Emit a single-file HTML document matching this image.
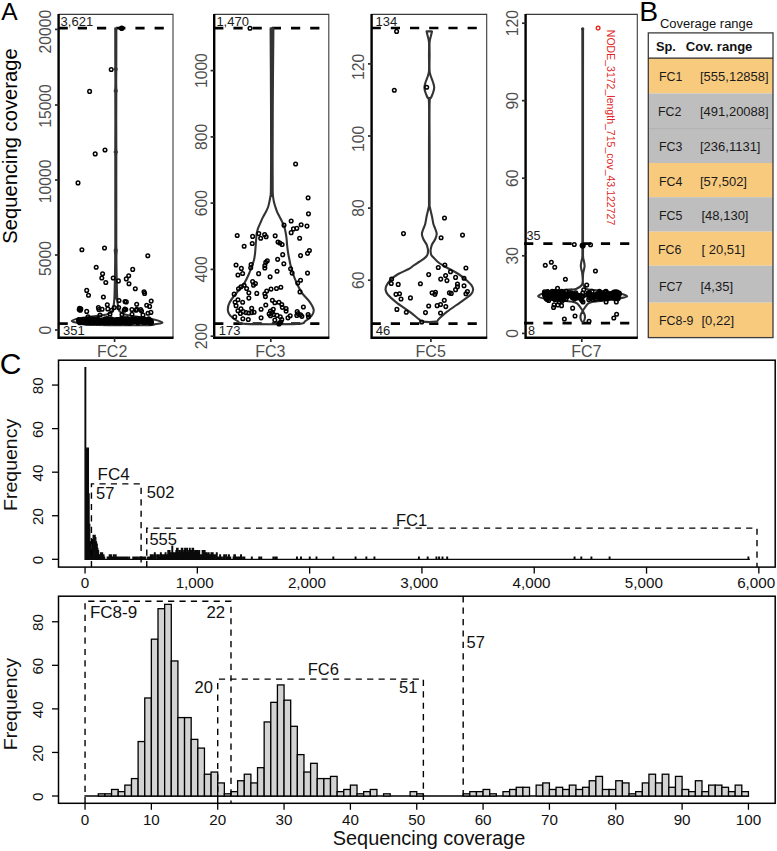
<!DOCTYPE html>
<html><head><meta charset="utf-8"><title>Sequencing coverage</title>
<style>
html,body{margin:0;padding:0;background:#fff;}
body{width:777px;height:851px;overflow:hidden;font-family:"Liberation Sans", sans-serif;}
svg{display:block;font-family:"Liberation Sans", sans-serif;}
</style></head><body>
<svg width="777" height="851" viewBox="0 0 777 851">
<rect x="0" y="0" width="777" height="851" fill="#fff"/>
<text x="1.2" y="20" font-size="23.5" fill="#000" textLength="16.4" lengthAdjust="spacingAndGlyphs">A</text>
<text x="639.2" y="20.6" font-size="27.6" fill="#000" textLength="18.9" lengthAdjust="spacingAndGlyphs">B</text>
<text x="-0.3" y="374.1" font-size="30" fill="#000">C</text>
<text x="16.6" y="146" font-size="20.2" fill="#000" text-anchor="middle" transform="rotate(-90 16.6 146)">Sequencing coverage</text>
<path d="M58.6 14.4H173V337.8" fill="none" stroke="#3a3a3a" stroke-width="1.1"/>
<path d="M58.6 13.9V337.8H173.5" fill="none" stroke="#000" stroke-width="2.4"/>
<path d="M55 330H58.6" stroke="#2a2a2a" stroke-width="1.7"/>
<text x="51.3" y="330" font-size="15.7" fill="#4d4d4d" text-anchor="middle" transform="rotate(-90 51.3 330)">0</text>
<path d="M55 255H58.6" stroke="#2a2a2a" stroke-width="1.7"/>
<text x="51.3" y="258.5" font-size="15.7" fill="#4d4d4d" text-anchor="middle" transform="rotate(-90 51.3 258.5)">5000</text>
<path d="M55 180H58.6" stroke="#2a2a2a" stroke-width="1.7"/>
<text x="51.3" y="181.4" font-size="15.7" fill="#4d4d4d" text-anchor="middle" transform="rotate(-90 51.3 181.4)">10000</text>
<path d="M55 105H58.6" stroke="#2a2a2a" stroke-width="1.7"/>
<text x="51.3" y="106" font-size="15.7" fill="#4d4d4d" text-anchor="middle" transform="rotate(-90 51.3 106)">15000</text>
<path d="M55 29.4H58.6" stroke="#2a2a2a" stroke-width="1.7"/>
<text x="51.3" y="31.6" font-size="15.7" fill="#4d4d4d" text-anchor="middle" transform="rotate(-90 51.3 31.6)">20000</text>
<path d="M114.6 337.8V342" stroke="#2a2a2a" stroke-width="1.7"/>
<text x="112.2" y="357.4" font-size="16" fill="#4d4d4d" text-anchor="middle">FC2</text>
<path d="M58.6 28.2H173" stroke="#000" stroke-width="2.7" stroke-dasharray="9.2 10" fill="none"/>
<path d="M58.6 323.6H68" stroke="#000" stroke-width="2.7" stroke-dasharray="9.2 10" fill="none"/>
<text x="60.6" y="26.4" font-size="13" fill="#1a1a1a">3,621</text>
<text x="63" y="335.2" font-size="13" fill="#1a1a1a">351</text>
<path d="M115.25 28.2C115.26 33.5 115.29 53.53 115.3 60C115.31 66.47 115.38 65.42 115.3 67C115.22 68.58 114.8 68.67 114.8 69.5C114.8 70.33 115.22 68.75 115.3 72C115.38 75.25 115.38 85.77 115.3 89C115.22 92.23 114.8 90.57 114.8 91.4C114.8 92.23 115.22 84.73 115.3 94C115.38 103.27 115.4 137.33 115.3 147C115.2 156.67 114.7 150.33 114.7 152C114.7 153.67 115.2 149 115.3 157C115.4 165 115.3 185.33 115.3 200C115.3 214.67 115.38 236.67 115.3 245C115.22 253.33 114.82 248.17 114.8 250C114.78 251.83 115.17 251.83 115.2 256C115.23 260.17 115.07 270.17 115 275C114.93 279.83 114.9 281.17 114.8 285C114.7 288.83 114.6 294.5 114.4 298C114.2 301.5 113.97 303.83 113.6 306C113.23 308.17 113.33 309.58 112.2 311C111.07 312.42 110.2 313.58 106.8 314.5C103.4 315.42 96.47 315.83 91.8 316.5C87.13 317.17 82.13 317.75 78.8 318.5C75.47 319.25 71.97 320.25 71.8 321C71.63 321.75 75.13 322.4 77.8 323C80.47 323.6 76.47 324.23 87.8 324.6C99.13 324.97 134.47 325.3 145.8 325.2C157.13 325.1 153.05 324.45 155.8 324C158.55 323.55 162.63 323.25 162.3 322.5C161.97 321.75 157.55 320.42 153.8 319.5C150.05 318.58 144.63 317.83 139.8 317C134.97 316.17 128.2 315.5 124.8 314.5C121.4 313.5 120.53 312.42 119.4 311C118.27 309.58 118.37 308.17 118 306C117.63 303.83 117.4 301.5 117.2 298C117 294.5 116.9 288.83 116.8 285C116.7 281.17 116.67 279.83 116.6 275C116.53 270.17 116.37 260.17 116.4 256C116.43 251.83 116.82 251.83 116.8 250C116.78 248.17 116.38 253.33 116.3 245C116.22 236.67 116.3 214.67 116.3 200C116.3 185.33 116.2 165 116.3 157C116.4 149 116.9 153.67 116.9 152C116.9 150.33 116.4 156.67 116.3 147C116.2 137.33 116.22 103.27 116.3 94C116.38 84.73 116.8 92.23 116.8 91.4C116.8 90.57 116.38 92.23 116.3 89C116.22 85.77 116.22 75.25 116.3 72C116.38 68.75 116.8 70.33 116.8 69.5C116.8 68.67 116.38 68.58 116.3 67C116.22 65.42 116.29 66.47 116.3 60C116.31 53.53 116.34 33.5 116.35 28.2Z" fill="none" stroke="#333333" stroke-width="2.1" stroke-linejoin="round"/>
<path d="M115.25 28.2C115.26 33.5 115.29 53.53 115.3 60C115.31 66.47 115.38 65.42 115.3 67C115.22 68.58 114.8 68.67 114.8 69.5C114.8 70.33 115.22 68.75 115.3 72C115.38 75.25 115.38 85.77 115.3 89C115.22 92.23 114.8 90.57 114.8 91.4C114.8 92.23 115.22 84.73 115.3 94C115.38 103.27 115.4 137.33 115.3 147C115.2 156.67 114.7 150.33 114.7 152C114.7 153.67 115.2 149 115.3 157C115.4 165 115.3 185.33 115.3 200C115.3 214.67 115.38 236.67 115.3 245C115.22 253.33 114.82 248.17 114.8 250C114.78 251.83 115.17 251.83 115.2 256C115.23 260.17 115.07 270.17 115 275C114.93 279.83 114.9 281.17 114.8 285C114.7 288.83 114 295.83 114.4 298C114.8 300.17 116.8 300.17 117.2 298C117.6 295.83 116.9 288.83 116.8 285C116.7 281.17 116.67 279.83 116.6 275C116.53 270.17 116.37 260.17 116.4 256C116.43 251.83 116.82 251.83 116.8 250C116.78 248.17 116.38 253.33 116.3 245C116.22 236.67 116.3 214.67 116.3 200C116.3 185.33 116.2 165 116.3 157C116.4 149 116.9 153.67 116.9 152C116.9 150.33 116.4 156.67 116.3 147C116.2 137.33 116.22 103.27 116.3 94C116.38 84.73 116.8 92.23 116.8 91.4C116.8 90.57 116.38 92.23 116.3 89C116.22 85.77 116.22 75.25 116.3 72C116.38 68.75 116.8 70.33 116.8 69.5C116.8 68.67 116.38 68.58 116.3 67C116.22 65.42 116.29 66.47 116.3 60C116.31 53.53 116.34 33.5 116.35 28.2Z" fill="#333333" stroke="none"/>
<g fill="none" stroke="#000" stroke-width="1.5"><circle cx="111.2" cy="69.5" r="1.8"/><circle cx="89.6" cy="91.4" r="1.8"/><circle cx="105" cy="150" r="1.8"/><circle cx="95.2" cy="153.9" r="1.8"/><circle cx="78" cy="182.9" r="1.8"/><circle cx="81.9" cy="249.7" r="1.8"/><circle cx="104.5" cy="248" r="1.8"/><circle cx="147.8" cy="255.8" r="1.8"/><circle cx="96.2" cy="267.3" r="1.8"/><circle cx="132.7" cy="269.4" r="1.8"/><circle cx="102.6" cy="273.8" r="1.8"/><circle cx="101.8" cy="278" r="1.8"/><circle cx="113.2" cy="278" r="1.8"/><circle cx="128.7" cy="275.7" r="1.8"/><circle cx="126.3" cy="278.9" r="1.8"/><circle cx="118.4" cy="280.9" r="1.8"/><circle cx="105.8" cy="282.5" r="1.8"/><circle cx="129" cy="283.8" r="1.8"/><circle cx="135.3" cy="288.7" r="1.8"/><circle cx="86.7" cy="290.4" r="1.8"/><circle cx="88.5" cy="295.2" r="1.8"/><circle cx="144" cy="291.8" r="1.8"/><circle cx="144.6" cy="293.4" r="1.8"/><circle cx="103.4" cy="297" r="1.8"/><circle cx="119" cy="300.5" r="1.8"/><circle cx="125" cy="301.6" r="1.8"/><circle cx="126.3" cy="301.9" r="1.8"/><circle cx="151.2" cy="301.1" r="1.8"/><circle cx="136.7" cy="304.3" r="1.8"/><circle cx="146.7" cy="305.2" r="1.8"/><circle cx="149.6" cy="306.4" r="1.8"/><circle cx="107.3" cy="304.8" r="1.8"/><circle cx="98.4" cy="307.6" r="1.8"/><circle cx="79.6" cy="308.4" r="1.8"/><circle cx="80.3" cy="310.3" r="1.8"/><circle cx="79.2" cy="309.6" r="1.8"/><circle cx="80.8" cy="308.9" r="1.8"/><circle cx="86.7" cy="311.4" r="1.8"/><circle cx="98.9" cy="309.5" r="1.8"/><circle cx="102.1" cy="309.2" r="1.8"/><circle cx="107.8" cy="308.9" r="1.8"/><circle cx="111.6" cy="310.3" r="1.8"/><circle cx="114.2" cy="307.6" r="1.8"/><circle cx="118.7" cy="307.6" r="1.8"/><circle cx="124.2" cy="310.3" r="1.8"/><circle cx="125.8" cy="309.5" r="1.8"/><circle cx="124.9" cy="309" r="1.8"/><circle cx="131.9" cy="309.5" r="1.8"/><circle cx="136" cy="310.3" r="1.8"/><circle cx="136.8" cy="309.4" r="1.8"/><circle cx="140.7" cy="309.5" r="1.8"/><circle cx="141.5" cy="311" r="1.8"/><circle cx="148" cy="313.2" r="1.8"/><circle cx="150.9" cy="312.4" r="1.8"/><circle cx="88" cy="316.9" r="1.8"/><circle cx="122" cy="314.5" r="1.8"/><circle cx="110" cy="314" r="1.8"/><circle cx="100" cy="315" r="1.8"/><circle cx="132" cy="314.2" r="1.8"/><circle cx="143" cy="315" r="1.8"/></g>
<g fill="none" stroke="#000" stroke-width="1.5"><circle cx="102.3" cy="321.92" r="1.8"/><circle cx="83.82" cy="322.31" r="1.8"/><circle cx="117.89" cy="320.62" r="1.8"/><circle cx="115.8" cy="321.21" r="1.8"/><circle cx="81.26" cy="320.48" r="1.8"/><circle cx="85.17" cy="321.08" r="1.8"/><circle cx="109.7" cy="321.19" r="1.8"/><circle cx="94.91" cy="320.35" r="1.8"/><circle cx="124.62" cy="322.39" r="1.8"/><circle cx="107.66" cy="320.39" r="1.8"/><circle cx="150.25" cy="322.9" r="1.8"/><circle cx="99.79" cy="321.58" r="1.8"/><circle cx="89.1" cy="321.66" r="1.8"/><circle cx="138.49" cy="321.6" r="1.8"/><circle cx="91.78" cy="319.41" r="1.8"/><circle cx="105.87" cy="320.06" r="1.8"/><circle cx="118.76" cy="321.29" r="1.8"/><circle cx="93.64" cy="321.06" r="1.8"/><circle cx="128.51" cy="319.96" r="1.8"/><circle cx="121.54" cy="321.36" r="1.8"/><circle cx="111.81" cy="320.24" r="1.8"/><circle cx="129.88" cy="322.9" r="1.8"/><circle cx="96.44" cy="319.59" r="1.8"/><circle cx="142.82" cy="320.24" r="1.8"/><circle cx="132.11" cy="320.11" r="1.8"/><circle cx="87.18" cy="322.9" r="1.8"/><circle cx="109.23" cy="320.93" r="1.8"/><circle cx="114.44" cy="320.21" r="1.8"/><circle cx="81.38" cy="319.9" r="1.8"/><circle cx="120.62" cy="319.12" r="1.8"/><circle cx="142.85" cy="320.18" r="1.8"/><circle cx="122.19" cy="322.6" r="1.8"/><circle cx="121.12" cy="318.9" r="1.8"/><circle cx="147.93" cy="321.52" r="1.8"/><circle cx="113.35" cy="320.68" r="1.8"/><circle cx="130.06" cy="320.54" r="1.8"/><circle cx="126.06" cy="322.9" r="1.8"/><circle cx="99.42" cy="320.8" r="1.8"/><circle cx="106.86" cy="320.77" r="1.8"/><circle cx="112.43" cy="320.68" r="1.8"/><circle cx="90.85" cy="321.21" r="1.8"/><circle cx="134.97" cy="321.18" r="1.8"/><circle cx="88.01" cy="320.92" r="1.8"/><circle cx="142.55" cy="322.09" r="1.8"/><circle cx="84.42" cy="319.46" r="1.8"/><circle cx="143.43" cy="321.38" r="1.8"/><circle cx="138.72" cy="321.54" r="1.8"/><circle cx="109.02" cy="320.17" r="1.8"/><circle cx="104.87" cy="322.9" r="1.8"/><circle cx="89.59" cy="318.9" r="1.8"/><circle cx="91.45" cy="321" r="1.8"/><circle cx="114.14" cy="321.77" r="1.8"/><circle cx="121.8" cy="320.89" r="1.8"/><circle cx="109.29" cy="321.01" r="1.8"/><circle cx="105.64" cy="318.9" r="1.8"/><circle cx="129.25" cy="319.7" r="1.8"/><circle cx="116.39" cy="319.57" r="1.8"/><circle cx="82.47" cy="319.69" r="1.8"/><circle cx="144.62" cy="321.36" r="1.8"/><circle cx="137.14" cy="318.9" r="1.8"/><circle cx="107.34" cy="320.45" r="1.8"/><circle cx="125.12" cy="321.23" r="1.8"/><circle cx="83.08" cy="321.65" r="1.8"/><circle cx="90.43" cy="321.24" r="1.8"/><circle cx="103.49" cy="320.92" r="1.8"/><circle cx="89.62" cy="320.91" r="1.8"/><circle cx="85.96" cy="320.72" r="1.8"/><circle cx="142.76" cy="321.11" r="1.8"/><circle cx="123.63" cy="321.44" r="1.8"/><circle cx="104.03" cy="321.64" r="1.8"/><circle cx="105.27" cy="322.57" r="1.8"/><circle cx="151.49" cy="322.53" r="1.8"/><circle cx="112.75" cy="320.39" r="1.8"/><circle cx="86.01" cy="320.95" r="1.8"/><circle cx="103.68" cy="320.69" r="1.8"/><circle cx="90.37" cy="322.9" r="1.8"/><circle cx="80.2" cy="322.3" r="1.8"/><circle cx="89.28" cy="320.45" r="1.8"/><circle cx="118.42" cy="322.35" r="1.8"/><circle cx="150.42" cy="321.15" r="1.8"/><circle cx="141.95" cy="320.59" r="1.8"/><circle cx="105.45" cy="320.02" r="1.8"/><circle cx="90.78" cy="321.1" r="1.8"/><circle cx="135.76" cy="319.43" r="1.8"/><circle cx="102.73" cy="321.27" r="1.8"/><circle cx="150.89" cy="322.9" r="1.8"/><circle cx="141.17" cy="321.66" r="1.8"/><circle cx="132.88" cy="318.9" r="1.8"/><circle cx="95.17" cy="319.78" r="1.8"/><circle cx="80.63" cy="320.78" r="1.8"/><circle cx="80.55" cy="320.73" r="1.8"/><circle cx="129.4" cy="321.81" r="1.8"/><circle cx="148.8" cy="318.9" r="1.8"/><circle cx="151.12" cy="321.82" r="1.8"/><circle cx="148.69" cy="320.34" r="1.8"/><circle cx="95.17" cy="321.54" r="1.8"/><circle cx="92.96" cy="321.37" r="1.8"/><circle cx="144.67" cy="322.51" r="1.8"/><circle cx="140.27" cy="319.17" r="1.8"/><circle cx="137.27" cy="321.12" r="1.8"/><circle cx="84.73" cy="319.5" r="1.8"/><circle cx="136" cy="318.9" r="1.8"/><circle cx="133.64" cy="320.15" r="1.8"/><circle cx="136.5" cy="321" r="1.8"/><circle cx="102.94" cy="321.91" r="1.8"/><circle cx="107.59" cy="318.9" r="1.8"/><circle cx="108" cy="322.72" r="1.8"/><circle cx="91" cy="320.27" r="1.8"/><circle cx="87.84" cy="322.41" r="1.8"/><circle cx="137.78" cy="322.9" r="1.8"/><circle cx="89.24" cy="322.46" r="1.8"/><circle cx="126.81" cy="318.9" r="1.8"/><circle cx="104.25" cy="320.29" r="1.8"/><circle cx="79.55" cy="320.71" r="1.8"/><circle cx="149.86" cy="320.03" r="1.8"/><circle cx="147.12" cy="319.71" r="1.8"/><circle cx="110.38" cy="322.45" r="1.8"/><circle cx="94.01" cy="319.28" r="1.8"/><circle cx="97.01" cy="320.66" r="1.8"/><circle cx="121.6" cy="321.76" r="1.8"/><circle cx="97.56" cy="320.34" r="1.8"/><circle cx="145.39" cy="321.21" r="1.8"/><circle cx="104.5" cy="319.37" r="1.8"/><circle cx="144.97" cy="321.31" r="1.8"/><circle cx="109.42" cy="322.13" r="1.8"/><circle cx="117.59" cy="320.2" r="1.8"/><circle cx="116.98" cy="322.18" r="1.8"/><circle cx="91.96" cy="321.05" r="1.8"/><circle cx="78.79" cy="321.12" r="1.8"/><circle cx="113.3" cy="320.2" r="1.8"/><circle cx="131.8" cy="319.9" r="1.8"/><circle cx="116.6" cy="320.53" r="1.8"/><circle cx="119.32" cy="321.02" r="1.8"/><circle cx="119.68" cy="320.34" r="1.8"/><circle cx="96.76" cy="320.55" r="1.8"/><circle cx="115.82" cy="322.9" r="1.8"/><circle cx="119.79" cy="321.07" r="1.8"/><circle cx="111.08" cy="318.9" r="1.8"/><circle cx="123.52" cy="319.46" r="1.8"/><circle cx="129.42" cy="320.85" r="1.8"/><circle cx="111.75" cy="319.56" r="1.8"/><circle cx="147.7" cy="320.62" r="1.8"/><circle cx="129.89" cy="322.9" r="1.8"/><circle cx="97.58" cy="318.9" r="1.8"/><circle cx="119.62" cy="322.9" r="1.8"/><circle cx="88.58" cy="320.1" r="1.8"/><circle cx="87.44" cy="320.46" r="1.8"/><circle cx="96.19" cy="321.07" r="1.8"/><circle cx="83.87" cy="319.88" r="1.8"/><circle cx="144.43" cy="319.06" r="1.8"/><circle cx="89.85" cy="320.53" r="1.8"/><circle cx="89.01" cy="319.18" r="1.8"/><circle cx="143.39" cy="321.73" r="1.8"/><circle cx="148.51" cy="320.73" r="1.8"/><circle cx="107.77" cy="318.9" r="1.8"/><circle cx="139.68" cy="321.19" r="1.8"/><circle cx="90.37" cy="319.59" r="1.8"/><circle cx="103.43" cy="321.5" r="1.8"/><circle cx="92.89" cy="320.1" r="1.8"/><circle cx="79.93" cy="322.65" r="1.8"/><circle cx="119.22" cy="320.69" r="1.8"/><circle cx="102.87" cy="320.98" r="1.8"/><circle cx="124.36" cy="320.46" r="1.8"/><circle cx="150.9" cy="320.87" r="1.8"/><circle cx="136.44" cy="321.46" r="1.8"/><circle cx="98.02" cy="320.8" r="1.8"/><circle cx="81.41" cy="321.07" r="1.8"/><circle cx="88.02" cy="319.96" r="1.8"/><circle cx="109.54" cy="322.78" r="1.8"/><circle cx="97.51" cy="319.73" r="1.8"/><circle cx="89.48" cy="322.26" r="1.8"/><circle cx="129.98" cy="320.14" r="1.8"/><circle cx="85.08" cy="322.61" r="1.8"/><circle cx="109.76" cy="321.55" r="1.8"/><circle cx="83.82" cy="322.48" r="1.8"/><circle cx="137.42" cy="320.26" r="1.8"/><circle cx="84.66" cy="321.18" r="1.8"/><circle cx="141.91" cy="320.55" r="1.8"/><circle cx="111.85" cy="320.09" r="1.8"/><circle cx="146.61" cy="322.19" r="1.8"/><circle cx="98.19" cy="321.91" r="1.8"/><circle cx="96.03" cy="321.97" r="1.8"/><circle cx="86.54" cy="321.1" r="1.8"/><circle cx="93.33" cy="321.23" r="1.8"/><circle cx="101.43" cy="320.21" r="1.8"/><circle cx="99.81" cy="322.81" r="1.8"/><circle cx="115.26" cy="321.38" r="1.8"/><circle cx="79.83" cy="321.9" r="1.8"/><circle cx="96.91" cy="322.84" r="1.8"/><circle cx="119" cy="321.09" r="1.8"/><circle cx="92.43" cy="318.9" r="1.8"/><circle cx="86.31" cy="321.34" r="1.8"/><circle cx="138.69" cy="319.62" r="1.8"/><circle cx="139.84" cy="321.48" r="1.8"/><circle cx="107.39" cy="319.07" r="1.8"/><circle cx="150.71" cy="320.82" r="1.8"/><circle cx="103.69" cy="321.83" r="1.8"/><circle cx="125.24" cy="319.27" r="1.8"/><circle cx="108.25" cy="320.67" r="1.8"/><circle cx="88.04" cy="321.23" r="1.8"/><circle cx="83.7" cy="320.85" r="1.8"/><circle cx="90.5" cy="319.98" r="1.8"/><circle cx="84.71" cy="322.22" r="1.8"/><circle cx="127.78" cy="318.9" r="1.8"/><circle cx="99.22" cy="320.95" r="1.8"/><circle cx="112.27" cy="321.9" r="1.8"/><circle cx="90.08" cy="320.02" r="1.8"/><circle cx="149.19" cy="321.21" r="1.8"/><circle cx="149.99" cy="320.04" r="1.8"/><circle cx="149.48" cy="320.64" r="1.8"/><circle cx="101.25" cy="320.87" r="1.8"/><circle cx="106.55" cy="320.94" r="1.8"/><circle cx="113.39" cy="320.1" r="1.8"/><circle cx="115.6" cy="320.89" r="1.8"/><circle cx="78.86" cy="320.85" r="1.8"/><circle cx="107.86" cy="321.42" r="1.8"/><circle cx="81.56" cy="321.91" r="1.8"/><circle cx="95.61" cy="321.04" r="1.8"/><circle cx="121.54" cy="318.93" r="1.8"/><circle cx="126.83" cy="320.54" r="1.8"/><circle cx="131.13" cy="321.76" r="1.8"/><circle cx="102.47" cy="320.08" r="1.8"/><circle cx="150.88" cy="322.04" r="1.8"/><circle cx="125.78" cy="322.45" r="1.8"/><circle cx="81.72" cy="322.19" r="1.8"/><circle cx="124.61" cy="318.9" r="1.8"/><circle cx="132.44" cy="321.15" r="1.8"/><circle cx="117" cy="320.29" r="1.8"/><circle cx="115.57" cy="322" r="1.8"/><circle cx="139.24" cy="319.03" r="1.8"/><circle cx="121.43" cy="322.32" r="1.8"/><circle cx="129.46" cy="319.77" r="1.8"/><circle cx="95.4" cy="321.53" r="1.8"/><circle cx="105.01" cy="321.02" r="1.8"/><circle cx="86.21" cy="321.69" r="1.8"/><circle cx="124.64" cy="319.58" r="1.8"/><circle cx="124.53" cy="320.31" r="1.8"/><circle cx="78.74" cy="319.64" r="1.8"/><circle cx="137.13" cy="320.88" r="1.8"/><circle cx="117.84" cy="319.48" r="1.8"/><circle cx="126.96" cy="322.69" r="1.8"/><circle cx="97.04" cy="321.69" r="1.8"/><circle cx="83.97" cy="320.71" r="1.8"/><circle cx="93.58" cy="322.83" r="1.8"/><circle cx="132.88" cy="322.28" r="1.8"/><circle cx="106.62" cy="320.69" r="1.8"/><circle cx="113.71" cy="320.07" r="1.8"/><circle cx="123.85" cy="319.03" r="1.8"/><circle cx="125.74" cy="321.5" r="1.8"/><circle cx="97.16" cy="321.22" r="1.8"/><circle cx="133.13" cy="320.38" r="1.8"/><circle cx="79.42" cy="322.36" r="1.8"/><circle cx="82.96" cy="320.69" r="1.8"/><circle cx="129.38" cy="322.68" r="1.8"/><circle cx="128.16" cy="320.53" r="1.8"/><circle cx="112.65" cy="322.3" r="1.8"/><circle cx="112.78" cy="322.77" r="1.8"/><circle cx="93.14" cy="322.62" r="1.8"/><circle cx="150.39" cy="321.11" r="1.8"/><circle cx="112.23" cy="320.81" r="1.8"/></g>
<circle cx="121.7" cy="28.3" r="2.8" fill="#000"/>
<path d="M214.2 14.4H328.8V337.8" fill="none" stroke="#3a3a3a" stroke-width="1.1"/>
<path d="M214.2 13.9V337.8H329.3" fill="none" stroke="#000" stroke-width="2.4"/>
<path d="M210.6 336.2H214.2" stroke="#2a2a2a" stroke-width="1.7"/>
<text x="206.9" y="336.2" font-size="15.7" fill="#4d4d4d" text-anchor="middle" transform="rotate(-90 206.9 336.2)">200</text>
<path d="M210.6 269.4H214.2" stroke="#2a2a2a" stroke-width="1.7"/>
<text x="206.9" y="269.4" font-size="15.7" fill="#4d4d4d" text-anchor="middle" transform="rotate(-90 206.9 269.4)">400</text>
<path d="M210.6 203.1H214.2" stroke="#2a2a2a" stroke-width="1.7"/>
<text x="206.9" y="203.1" font-size="15.7" fill="#4d4d4d" text-anchor="middle" transform="rotate(-90 206.9 203.1)">600</text>
<path d="M210.6 136.9H214.2" stroke="#2a2a2a" stroke-width="1.7"/>
<text x="206.9" y="136.9" font-size="15.7" fill="#4d4d4d" text-anchor="middle" transform="rotate(-90 206.9 136.9)">800</text>
<path d="M210.6 70.6H214.2" stroke="#2a2a2a" stroke-width="1.7"/>
<text x="206.9" y="70.6" font-size="15.7" fill="#4d4d4d" text-anchor="middle" transform="rotate(-90 206.9 70.6)">1000</text>
<path d="M270.8 337.8V342" stroke="#2a2a2a" stroke-width="1.7"/>
<text x="270.3" y="357.4" font-size="16" fill="#4d4d4d" text-anchor="middle">FC3</text>
<path d="M214.2 28.2H328.8" stroke="#000" stroke-width="2.7" stroke-dasharray="9.2 10" fill="none"/>
<path d="M214.2 323.6H328.8" stroke="#000" stroke-width="2.7" stroke-dasharray="9.2 10" fill="none"/>
<text x="216.4" y="26.4" font-size="13" fill="#1a1a1a">1,470</text>
<text x="218.8" y="335.2" font-size="13" fill="#1a1a1a">173</text>
<path d="M270.6 28.4C270.67 40.33 270.92 78.07 271 100C271.08 121.93 271.12 145 271.1 160C271.08 175 271 184 270.9 190C270.8 196 270.75 194.05 270.5 196C270.25 197.95 269.8 199.87 269.4 201.7C269 203.53 268.72 205.23 268.1 207C267.48 208.77 266.6 210.53 265.7 212.3C264.8 214.07 263.58 215.83 262.7 217.6C261.82 219.37 261.17 221.13 260.4 222.9C259.63 224.67 258.72 226.43 258.1 228.2C257.48 229.97 257.02 231.73 256.7 233.5C256.38 235.27 256.35 237.05 256.2 238.8C256.05 240.55 255.93 242.25 255.8 244C255.67 245.75 255.55 247.53 255.4 249.3C255.25 251.07 255.13 252.82 254.9 254.6C254.67 256.38 254.42 258.33 254 260C253.58 261.67 253.25 262.27 252.4 264.6C251.55 266.93 250.27 270.87 248.9 274C247.53 277.13 246.25 280.27 244.2 283.4C242.15 286.53 239.02 289.65 236.6 292.8C234.18 295.95 231.17 299.47 229.7 302.3C228.23 305.13 227.75 307.62 227.8 309.8C227.85 311.98 228.37 313.52 230 315.4C231.63 317.28 234.93 319.68 237.6 321.1C240.27 322.52 236.1 323.43 246 323.9C255.9 324.37 287.12 324.37 297 323.9C306.88 323.43 302.82 322.52 305.3 321.1C307.78 319.68 310.5 317.28 311.9 315.4C313.3 313.52 314.02 311.98 313.7 309.8C313.38 307.62 311.97 305.13 310 302.3C308.03 299.47 304.1 295.95 301.9 292.8C299.7 289.65 298.27 286.53 296.8 283.4C295.33 280.27 294.17 277.13 293.1 274C292.03 270.87 291 266.93 290.4 264.6C289.8 262.27 289.83 261.67 289.5 260C289.17 258.33 288.72 256.38 288.4 254.6C288.08 252.82 287.83 251.07 287.6 249.3C287.37 247.53 287.17 245.75 287 244C286.83 242.25 286.8 240.55 286.6 238.8C286.4 237.05 286.12 235.27 285.8 233.5C285.48 231.73 285.23 229.97 284.7 228.2C284.17 226.43 283.38 224.67 282.6 222.9C281.82 221.13 280.88 219.37 280 217.6C279.12 215.83 278.07 214.07 277.3 212.3C276.53 210.53 275.97 208.77 275.4 207C274.83 205.23 274.3 203.53 273.9 201.7C273.5 199.87 273.2 197.95 273 196C272.8 194.05 272.77 196 272.7 190C272.63 184 272.58 175 272.6 160C272.62 145 272.67 121.93 272.8 100C272.93 78.07 273.3 40.33 273.4 28.4Z" fill="none" stroke="#333333" stroke-width="2.1" stroke-linejoin="round"/>
<path d="M271.9 28.6V197" stroke="#333333" stroke-width="2.2" fill="none"/>
<g fill="none" stroke="#000" stroke-width="1.5"><circle cx="308.1" cy="197.87" r="1.8"/><circle cx="308.47" cy="213.85" r="1.8"/><circle cx="291.17" cy="221" r="1.8"/><circle cx="284.02" cy="225.14" r="1.8"/><circle cx="301.14" cy="224.76" r="1.8"/><circle cx="306.97" cy="226.08" r="1.8"/><circle cx="296.81" cy="228.34" r="1.8"/><circle cx="293.43" cy="228.9" r="1.8"/><circle cx="291.17" cy="232.66" r="1.8"/><circle cx="237.19" cy="235.48" r="1.8"/><circle cx="252.62" cy="236.42" r="1.8"/><circle cx="258.82" cy="233.6" r="1.8"/><circle cx="264.65" cy="234.54" r="1.8"/><circle cx="260.7" cy="238.3" r="1.8"/><circle cx="266.16" cy="236.8" r="1.8"/><circle cx="275.18" cy="235.86" r="1.8"/><circle cx="299.63" cy="238.3" r="1.8"/><circle cx="252.24" cy="243.57" r="1.8"/><circle cx="244.15" cy="246.2" r="1.8"/><circle cx="278.01" cy="242.07" r="1.8"/><circle cx="279.89" cy="243.01" r="1.8"/><circle cx="282.14" cy="244.51" r="1.8"/><circle cx="309.41" cy="250.53" r="1.8"/><circle cx="307.53" cy="253.35" r="1.8"/><circle cx="300.57" cy="255.61" r="1.8"/><circle cx="282.71" cy="254.67" r="1.8"/><circle cx="277.63" cy="259.37" r="1.8"/><circle cx="267.29" cy="260.87" r="1.8"/><circle cx="265.78" cy="262.19" r="1.8"/><circle cx="236.06" cy="265.01" r="1.8"/><circle cx="251.11" cy="264.63" r="1.8"/><circle cx="250.73" cy="267.83" r="1.8"/><circle cx="264.84" cy="265.57" r="1.8"/><circle cx="264.84" cy="268.02" r="1.8"/><circle cx="283.84" cy="263.69" r="1.8"/><circle cx="241.33" cy="268.4" r="1.8"/><circle cx="290.61" cy="268.77" r="1.8"/><circle cx="277.07" cy="271.22" r="1.8"/><circle cx="242.65" cy="273.47" r="1.8"/><circle cx="237.95" cy="274.98" r="1.8"/><circle cx="258.63" cy="273.66" r="1.8"/><circle cx="292.11" cy="273.1" r="1.8"/><circle cx="307.53" cy="273.1" r="1.8"/><circle cx="270.11" cy="276.86" r="1.8"/><circle cx="300.57" cy="280.24" r="1.8"/><circle cx="297.75" cy="283.07" r="1.8"/><circle cx="252.62" cy="281.56" r="1.8"/><circle cx="255.44" cy="283.44" r="1.8"/><circle cx="253.56" cy="285.32" r="1.8"/><circle cx="244.15" cy="285.32" r="1.8"/><circle cx="240.95" cy="286.83" r="1.8"/><circle cx="238.51" cy="288.71" r="1.8"/><circle cx="246.6" cy="288.52" r="1.8"/><circle cx="280.83" cy="287.2" r="1.8"/><circle cx="276.5" cy="288.52" r="1.8"/><circle cx="271.05" cy="289.08" r="1.8"/><circle cx="266.72" cy="290.96" r="1.8"/><circle cx="300.01" cy="291.91" r="1.8"/><circle cx="248.85" cy="292.85" r="1.8"/><circle cx="256.75" cy="293.41" r="1.8"/><circle cx="264.84" cy="293.79" r="1.8"/><circle cx="234.18" cy="294.16" r="1.8"/><circle cx="265.4" cy="296.61" r="1.8"/><circle cx="248.85" cy="298.11" r="1.8"/><circle cx="237.95" cy="299.8" r="1.8"/><circle cx="272.36" cy="300.37" r="1.8"/><circle cx="242.65" cy="302.25" r="1.8"/><circle cx="235.12" cy="302.25" r="1.8"/><circle cx="274.81" cy="302.81" r="1.8"/><circle cx="278.95" cy="302.25" r="1.8"/><circle cx="281.77" cy="304.51" r="1.8"/><circle cx="265.78" cy="305.07" r="1.8"/><circle cx="236.06" cy="305.63" r="1.8"/><circle cx="282.33" cy="307.33" r="1.8"/><circle cx="303.4" cy="306.95" r="1.8"/><circle cx="251.67" cy="308.27" r="1.8"/><circle cx="286.09" cy="308.46" r="1.8"/><circle cx="240.95" cy="308.83" r="1.8"/><circle cx="261.08" cy="309.21" r="1.8"/><circle cx="273.3" cy="309.21" r="1.8"/><circle cx="237.95" cy="310.71" r="1.8"/><circle cx="243.21" cy="311.65" r="1.8"/><circle cx="246.03" cy="312.59" r="1.8"/><circle cx="248.85" cy="312.97" r="1.8"/><circle cx="251.67" cy="312.59" r="1.8"/><circle cx="254.12" cy="312.22" r="1.8"/><circle cx="240.39" cy="313.53" r="1.8"/><circle cx="270.48" cy="311.09" r="1.8"/><circle cx="272.36" cy="312.22" r="1.8"/><circle cx="269.17" cy="313.91" r="1.8"/><circle cx="286.09" cy="311.09" r="1.8"/><circle cx="297.19" cy="311.65" r="1.8"/><circle cx="298.13" cy="313.53" r="1.8"/><circle cx="308.1" cy="314.47" r="1.8"/><circle cx="273.68" cy="314.47" r="1.8"/><circle cx="277.07" cy="315.41" r="1.8"/><circle cx="280.26" cy="316.73" r="1.8"/><circle cx="270.48" cy="315.79" r="1.8"/><circle cx="290.23" cy="315.79" r="1.8"/><circle cx="287.97" cy="317.86" r="1.8"/><circle cx="300.57" cy="314.85" r="1.8"/><circle cx="301.89" cy="316.36" r="1.8"/><circle cx="296.81" cy="315.41" r="1.8"/><circle cx="308.47" cy="316.73" r="1.8"/><circle cx="234.75" cy="316.92" r="1.8"/><circle cx="261.08" cy="317.86" r="1.8"/><circle cx="242.84" cy="318.8" r="1.8"/><circle cx="248.29" cy="319.55" r="1.8"/><circle cx="274.81" cy="320.12" r="1.8"/><circle cx="281.77" cy="319.55" r="1.8"/><circle cx="279.51" cy="322.94" r="1.8"/><circle cx="280.83" cy="322" r="1.8"/><circle cx="278.95" cy="323.88" r="1.8"/><circle cx="250" cy="28.3" r="1.8"/><circle cx="295.6" cy="164" r="1.8"/></g>
<path d="M371.6 14.4H486.7V337.8" fill="none" stroke="#3a3a3a" stroke-width="1.1"/>
<path d="M371.6 13.9V337.8H487.2" fill="none" stroke="#000" stroke-width="2.4"/>
<path d="M368 280.2H371.6" stroke="#2a2a2a" stroke-width="1.7"/>
<text x="364.3" y="280.2" font-size="15.7" fill="#4d4d4d" text-anchor="middle" transform="rotate(-90 364.3 280.2)">60</text>
<path d="M368 208.1H371.6" stroke="#2a2a2a" stroke-width="1.7"/>
<text x="364.3" y="208.1" font-size="15.7" fill="#4d4d4d" text-anchor="middle" transform="rotate(-90 364.3 208.1)">80</text>
<path d="M368 136H371.6" stroke="#2a2a2a" stroke-width="1.7"/>
<text x="364.3" y="138.8" font-size="15.7" fill="#4d4d4d" text-anchor="middle" transform="rotate(-90 364.3 138.8)">100</text>
<path d="M368 63.9H371.6" stroke="#2a2a2a" stroke-width="1.7"/>
<text x="364.3" y="66.9" font-size="15.7" fill="#4d4d4d" text-anchor="middle" transform="rotate(-90 364.3 66.9)">120</text>
<path d="M430.9 337.8V342" stroke="#2a2a2a" stroke-width="1.7"/>
<text x="430.7" y="357.4" font-size="16" fill="#4d4d4d" text-anchor="middle">FC5</text>
<path d="M371.6 28H486.7" stroke="#000" stroke-width="2.7" stroke-dasharray="9.2 10" fill="none"/>
<path d="M371.6 323.6H486.7" stroke="#000" stroke-width="2.7" stroke-dasharray="9.2 10" fill="none"/>
<text x="375.6" y="26" font-size="13" fill="#1a1a1a">134</text>
<text x="375.8" y="335.2" font-size="13" fill="#1a1a1a">46</text>
<path d="M426.6 31.4C426.78 32.17 427.3 34.15 427.7 36C428.1 37.85 428.78 39.33 429 42.5C429.22 45.67 429 50.25 429 55C429 59.75 429.28 67.25 429 71C428.72 74.75 427.88 75.58 427.3 77.5C426.72 79.42 425.98 80.87 425.5 82.5C425.02 84.13 424.43 85.72 424.4 87.3C424.37 88.88 424.8 90.3 425.3 92C425.8 93.7 426.78 95.67 427.4 97.5C428.02 99.33 428.73 94.25 429 103C429.27 111.75 429 133.1 429 150C429 166.9 429.04 194.9 429 204.4C428.96 213.9 428.9 206.07 428.75 207C428.6 207.93 428.48 208.33 428.1 210C427.73 211.67 426.98 214.67 426.5 217C426.02 219.33 425.7 222.08 425.2 224C424.7 225.92 424.05 226.87 423.5 228.5C422.95 230.13 421.93 232.05 421.9 233.8C421.87 235.55 422.53 237.25 423.3 239C424.07 240.75 425.75 242.68 426.5 244.3C427.25 245.92 427.55 247.52 427.8 248.7C428.05 249.88 428.08 250.37 428 251.4C427.92 252.43 427.92 253.73 427.3 254.9C426.68 256.07 425.7 257.22 424.3 258.4C422.9 259.58 420.68 260.82 418.9 262C417.12 263.18 415.28 264.33 413.6 265.5C411.92 266.67 411.37 267.58 408.8 269C406.23 270.42 401.22 272.22 398.2 274C395.18 275.78 392.63 277.82 390.7 279.7C388.77 281.58 387.45 283.58 386.6 285.3C385.75 287.02 385.38 288.43 385.6 290C385.82 291.57 386.12 292.65 387.9 294.7C389.68 296.75 392.7 299.47 396.3 302.3C399.9 305.13 405.73 308.88 409.5 311.7C413.27 314.52 416.72 317.55 418.9 319.2C421.08 320.85 419.75 321.2 422.6 321.6C425.45 322 433.33 322 436 321.6C438.67 321.2 436.75 320.85 438.6 319.2C440.45 317.55 443.48 314.52 447.1 311.7C450.72 308.88 456.38 305.13 460.3 302.3C464.22 299.47 468.47 296.75 470.6 294.7C472.73 292.65 472.93 291.57 473.1 290C473.27 288.43 472.8 287.02 471.6 285.3C470.4 283.58 468.1 281.58 465.9 279.7C463.7 277.82 461.15 275.78 458.4 274C455.65 272.22 451.93 270.42 449.4 269C446.87 267.58 445.12 266.67 443.2 265.5C441.28 264.33 439.38 263.18 437.9 262C436.42 260.82 435.4 259.58 434.3 258.4C433.2 257.22 431.92 256.07 431.3 254.9C430.68 253.73 430.68 252.43 430.6 251.4C430.52 250.37 430.55 249.88 430.8 248.7C431.05 247.52 431.35 245.92 432.1 244.3C432.85 242.68 434.53 240.75 435.3 239C436.07 237.25 436.73 235.55 436.7 233.8C436.67 232.05 435.65 230.13 435.1 228.5C434.55 226.87 433.9 225.92 433.4 224C432.9 222.08 432.58 219.33 432.1 217C431.62 214.67 430.88 211.67 430.5 210C430.12 208.33 430 207.93 429.85 207C429.7 206.07 429.64 213.9 429.6 204.4C429.56 194.9 429.6 166.9 429.6 150C429.6 133.1 429.33 111.75 429.6 103C429.87 94.25 430.58 99.33 431.2 97.5C431.82 95.67 432.8 93.7 433.3 92C433.8 90.3 434.23 88.88 434.2 87.3C434.17 85.72 433.58 84.13 433.1 82.5C432.62 80.87 431.88 79.42 431.3 77.5C430.72 75.58 429.88 74.75 429.6 71C429.32 67.25 429.6 59.75 429.6 55C429.6 50.25 429.38 45.67 429.6 42.5C429.82 39.33 430.5 37.85 430.9 36C431.3 34.15 431.82 32.17 432 31.4Z" fill="none" stroke="#333333" stroke-width="2.1" stroke-linejoin="round"/>
<g fill="none" stroke="#000" stroke-width="1.5"><circle cx="444.48" cy="217.99" r="1.8"/><circle cx="403.48" cy="233.6" r="1.8"/><circle cx="462.53" cy="235.11" r="1.8"/><circle cx="441.09" cy="237.74" r="1.8"/><circle cx="444.85" cy="265.01" r="1.8"/><circle cx="438.27" cy="267.46" r="1.8"/><circle cx="465.92" cy="268.02" r="1.8"/><circle cx="450.5" cy="271.78" r="1.8"/><circle cx="428.68" cy="274.6" r="1.8"/><circle cx="445.61" cy="275.54" r="1.8"/><circle cx="455.57" cy="277.42" r="1.8"/><circle cx="464.04" cy="278.18" r="1.8"/><circle cx="391.63" cy="279.12" r="1.8"/><circle cx="440.72" cy="279.12" r="1.8"/><circle cx="446.92" cy="280.62" r="1.8"/><circle cx="391.25" cy="283.44" r="1.8"/><circle cx="398.21" cy="284.38" r="1.8"/><circle cx="420.4" cy="283.82" r="1.8"/><circle cx="457.46" cy="284.01" r="1.8"/><circle cx="464.04" cy="285.7" r="1.8"/><circle cx="457.46" cy="286.83" r="1.8"/><circle cx="455.57" cy="289.65" r="1.8"/><circle cx="467.42" cy="291.53" r="1.8"/><circle cx="432.07" cy="292.85" r="1.8"/><circle cx="435.45" cy="292.28" r="1.8"/><circle cx="434.89" cy="294.35" r="1.8"/><circle cx="449.37" cy="292.85" r="1.8"/><circle cx="451.25" cy="293.41" r="1.8"/><circle cx="465.92" cy="293.79" r="1.8"/><circle cx="395.95" cy="294.35" r="1.8"/><circle cx="399.53" cy="293.79" r="1.8"/><circle cx="401.03" cy="299.05" r="1.8"/><circle cx="410.44" cy="297.92" r="1.8"/><circle cx="444.29" cy="300.37" r="1.8"/><circle cx="440.53" cy="304.51" r="1.8"/><circle cx="437.14" cy="305.63" r="1.8"/><circle cx="428.68" cy="306.01" r="1.8"/><circle cx="445.79" cy="306.58" r="1.8"/><circle cx="396.89" cy="309.4" r="1.8"/><circle cx="406.3" cy="312.22" r="1.8"/><circle cx="425.48" cy="312.59" r="1.8"/><circle cx="440.53" cy="312.97" r="1.8"/><circle cx="421.72" cy="322" r="1.8"/><circle cx="396.6" cy="31.4" r="1.8"/><circle cx="394.3" cy="90.3" r="1.8"/><circle cx="426.7" cy="87.3" r="1.8"/></g>
<path d="M525.6 14.4H637.3V337.8" fill="none" stroke="#3a3a3a" stroke-width="1.1"/>
<path d="M525.6 13.9V337.8H637.8" fill="none" stroke="#000" stroke-width="2.4"/>
<path d="M522 333.4H525.6" stroke="#2a2a2a" stroke-width="1.7"/>
<text x="518.3" y="333.4" font-size="15.7" fill="#4d4d4d" text-anchor="middle" transform="rotate(-90 518.3 333.4)">0</text>
<path d="M522 255.8H525.6" stroke="#2a2a2a" stroke-width="1.7"/>
<text x="518.3" y="255.8" font-size="15.7" fill="#4d4d4d" text-anchor="middle" transform="rotate(-90 518.3 255.8)">30</text>
<path d="M522 178.2H525.6" stroke="#2a2a2a" stroke-width="1.7"/>
<text x="518.3" y="178.2" font-size="15.7" fill="#4d4d4d" text-anchor="middle" transform="rotate(-90 518.3 178.2)">60</text>
<path d="M522 100.7H525.6" stroke="#2a2a2a" stroke-width="1.7"/>
<text x="518.3" y="100.7" font-size="15.7" fill="#4d4d4d" text-anchor="middle" transform="rotate(-90 518.3 100.7)">90</text>
<path d="M522 23.2H525.6" stroke="#2a2a2a" stroke-width="1.7"/>
<text x="518.3" y="23.2" font-size="15.7" fill="#4d4d4d" text-anchor="middle" transform="rotate(-90 518.3 23.2)">120</text>
<path d="M581.8 337.8V342" stroke="#2a2a2a" stroke-width="1.7"/>
<text x="586.3" y="357.4" font-size="16" fill="#4d4d4d" text-anchor="middle">FC7</text>
<path d="M524.1 243.6H637.3" stroke="#000" stroke-width="2.7" stroke-dasharray="9.2 10" fill="none"/>
<path d="M524.1 323.2H637.3" stroke="#000" stroke-width="2.7" stroke-dasharray="9.2 10" fill="none"/>
<text x="526.6" y="240.2" font-size="12.6" fill="#1a1a1a">35</text>
<text x="528" y="335.3" font-size="12.6" fill="#1a1a1a">8</text>
<path d="M582.35 28.6C582.36 37.17 582.39 59.77 582.4 80C582.41 100.23 582.4 122.67 582.4 150C582.4 177.33 582.42 226.17 582.4 244C582.38 261.83 582.45 254.17 582.3 257C582.15 259.83 581.75 259.55 581.5 261C581.25 262.45 580.8 264.2 580.8 265.7C580.8 267.2 581.25 268.62 581.5 270C581.75 271.38 582.17 271.67 582.3 274C582.43 276.33 583.34 281.51 582.3 284C581.26 286.49 578.21 288.01 576.06 288.93C573.91 289.85 572.97 289.18 569.4 289.53C565.82 289.87 558.92 290.36 554.6 291.01C550.28 291.65 546.21 292.46 543.5 293.37C540.79 294.29 537.7 295.54 538.32 296.48C538.94 297.42 543.25 298.31 547.2 299C551.15 299.69 557.81 300.16 562 300.63C566.19 301.09 569.84 301.34 572.36 301.81C574.87 302.28 575.76 302.52 577.09 303.44C578.43 304.35 579.41 306.05 580.35 307.29C581.29 308.52 581.98 309.5 582.72 310.84C583.46 312.17 584.49 313.8 584.79 315.28C585.09 316.76 584.84 318.61 584.49 319.72C584.15 320.83 583.31 321.94 582.72 321.94C582.13 321.94 581.29 320.83 580.94 319.72C580.6 318.61 580.35 316.76 580.65 315.28C580.94 313.8 581.98 312.17 582.72 310.84C583.46 309.5 584.15 308.52 585.09 307.29C586.02 306.05 587.01 304.35 588.34 303.44C589.67 302.52 590.07 302.35 593.08 301.81C596.09 301.27 601.96 300.77 606.4 300.18C610.84 299.59 616.26 298.87 619.72 298.26C623.17 297.64 626.87 297.22 627.12 296.48C627.36 295.74 624.65 294.66 621.2 293.82C617.74 292.98 611.33 292.14 606.4 291.45C601.46 290.76 594.93 290.09 591.6 289.67C588.27 289.25 587.83 289.88 586.42 288.93C585 287.99 583.65 286.49 583.1 284C582.55 281.51 582.97 276.33 583.1 274C583.23 271.67 583.65 271.38 583.9 270C584.15 268.62 584.6 267.2 584.6 265.7C584.6 264.2 584.15 262.45 583.9 261C583.65 259.55 583.25 259.83 583.1 257C582.95 254.17 583.02 261.83 583 244C582.98 226.17 583 177.33 583 150C583 122.67 582.99 100.23 583 80C583.01 59.77 583.04 37.17 583.05 28.6Z" fill="none" stroke="#333333" stroke-width="2.1" stroke-linejoin="round"/>
<circle cx="582.7" cy="29" r="1.6" fill="#333333"/>
<g fill="none" stroke="#000" stroke-width="1.5"><circle cx="574.28" cy="244.54" r="1.8"/><circle cx="590.56" cy="244.68" r="1.8"/><circle cx="545.28" cy="265.25" r="1.8"/><circle cx="551.34" cy="262.29" r="1.8"/><circle cx="554.75" cy="267.18" r="1.8"/><circle cx="595.45" cy="271.03" r="1.8"/><circle cx="565.4" cy="279.31" r="1.8"/><circle cx="586.71" cy="284.94" r="1.8"/><circle cx="557.56" cy="288.34" r="1.8"/><circle cx="583.75" cy="289.82" r="1.8"/><circle cx="582.72" cy="293.08" r="1.8"/><circle cx="553.56" cy="307.43" r="1.8"/><circle cx="554.15" cy="304.92" r="1.8"/><circle cx="557.85" cy="304.92" r="1.8"/><circle cx="561.55" cy="305.66" r="1.8"/><circle cx="559.04" cy="301.96" r="1.8"/><circle cx="562" cy="301.22" r="1.8"/><circle cx="572.65" cy="308.17" r="1.8"/><circle cx="575.02" cy="316.02" r="1.8"/><circle cx="564.37" cy="318.98" r="1.8"/><circle cx="589.08" cy="321.2" r="1.8"/><circle cx="613.8" cy="317.94" r="1.8"/><circle cx="616.61" cy="314.24" r="1.8"/><circle cx="606.1" cy="301.96" r="1.8"/><circle cx="616.31" cy="301.96" r="1.8"/><circle cx="548.68" cy="300.48" r="1.8"/><circle cx="589.67" cy="297.81" r="1.8"/><circle cx="598.55" cy="297.52" r="1.8"/><circle cx="602.4" cy="298.26" r="1.8"/><circle cx="581.98" cy="300.48" r="1.8"/><circle cx="583.01" cy="301.96" r="1.8"/><circle cx="581.24" cy="299" r="1.8"/><circle cx="605.99" cy="297.44" r="1.8"/><circle cx="564.65" cy="294.87" r="1.8"/><circle cx="560.24" cy="296.6" r="1.8"/><circle cx="588.11" cy="294.84" r="1.8"/><circle cx="555.13" cy="291.2" r="1.8"/><circle cx="554.45" cy="294.56" r="1.8"/><circle cx="606.02" cy="291.2" r="1.8"/><circle cx="597.25" cy="295.07" r="1.8"/><circle cx="561.85" cy="297.15" r="1.8"/><circle cx="546.36" cy="293.92" r="1.8"/><circle cx="544.77" cy="293.11" r="1.8"/><circle cx="570.3" cy="295.41" r="1.8"/><circle cx="607.52" cy="298.63" r="1.8"/><circle cx="607.43" cy="295.34" r="1.8"/><circle cx="553.5" cy="298.13" r="1.8"/><circle cx="612.12" cy="293.89" r="1.8"/><circle cx="566.24" cy="291.2" r="1.8"/><circle cx="588.69" cy="299.5" r="1.8"/><circle cx="571.55" cy="295.2" r="1.8"/><circle cx="552.13" cy="295.92" r="1.8"/><circle cx="607.1" cy="294.26" r="1.8"/><circle cx="563.2" cy="299.5" r="1.8"/><circle cx="564.43" cy="294.01" r="1.8"/><circle cx="572.5" cy="295.21" r="1.8"/><circle cx="610.82" cy="296.37" r="1.8"/><circle cx="613.01" cy="292.69" r="1.8"/><circle cx="615.05" cy="292.26" r="1.8"/><circle cx="548.21" cy="294.33" r="1.8"/><circle cx="599.43" cy="292.12" r="1.8"/><circle cx="592.84" cy="296.32" r="1.8"/><circle cx="565.97" cy="299.5" r="1.8"/><circle cx="554.05" cy="296.69" r="1.8"/><circle cx="566.83" cy="296.84" r="1.8"/><circle cx="593.7" cy="295.07" r="1.8"/><circle cx="567.06" cy="294.35" r="1.8"/><circle cx="556.62" cy="296.05" r="1.8"/><circle cx="560.09" cy="297.25" r="1.8"/><circle cx="561" cy="293.99" r="1.8"/><circle cx="612.47" cy="297.49" r="1.8"/><circle cx="554.97" cy="295.25" r="1.8"/><circle cx="558.93" cy="296.84" r="1.8"/><circle cx="551.33" cy="296.29" r="1.8"/><circle cx="562.43" cy="295.16" r="1.8"/><circle cx="611.04" cy="297.89" r="1.8"/><circle cx="600.72" cy="293.54" r="1.8"/><circle cx="565.31" cy="296.38" r="1.8"/><circle cx="617.08" cy="296.96" r="1.8"/><circle cx="591.72" cy="296.98" r="1.8"/><circle cx="609.21" cy="295.64" r="1.8"/><circle cx="563.13" cy="296.85" r="1.8"/><circle cx="574.48" cy="299.03" r="1.8"/><circle cx="609.97" cy="294.19" r="1.8"/><circle cx="546.14" cy="298.38" r="1.8"/><circle cx="611.68" cy="295.93" r="1.8"/><circle cx="544.51" cy="291.75" r="1.8"/><circle cx="606.42" cy="298.18" r="1.8"/><circle cx="608.66" cy="296.79" r="1.8"/><circle cx="552.68" cy="295.04" r="1.8"/><circle cx="556.08" cy="292.3" r="1.8"/><circle cx="615.11" cy="294.88" r="1.8"/><circle cx="598.63" cy="293.25" r="1.8"/><circle cx="547.47" cy="292.58" r="1.8"/><circle cx="603.17" cy="295.79" r="1.8"/><circle cx="592.91" cy="299.5" r="1.8"/><circle cx="563.38" cy="293.27" r="1.8"/><circle cx="552.91" cy="292.96" r="1.8"/><circle cx="549.78" cy="292.69" r="1.8"/><circle cx="589.58" cy="294.9" r="1.8"/><circle cx="545.28" cy="294.59" r="1.8"/><circle cx="616.42" cy="297.41" r="1.8"/><circle cx="592.84" cy="296.99" r="1.8"/><circle cx="562.11" cy="293.78" r="1.8"/><circle cx="563.03" cy="298.33" r="1.8"/><circle cx="576" cy="294.53" r="1.8"/><circle cx="563.79" cy="293.04" r="1.8"/><circle cx="561.51" cy="291.35" r="1.8"/><circle cx="547.06" cy="294.2" r="1.8"/><circle cx="595.69" cy="297.08" r="1.8"/><circle cx="559.36" cy="296.26" r="1.8"/><circle cx="617.24" cy="292.16" r="1.8"/><circle cx="567.88" cy="295.47" r="1.8"/><circle cx="601.54" cy="296.7" r="1.8"/><circle cx="566.62" cy="294.01" r="1.8"/><circle cx="561.25" cy="295.33" r="1.8"/><circle cx="575.78" cy="292.83" r="1.8"/><circle cx="555.48" cy="291.2" r="1.8"/><circle cx="617.56" cy="295.71" r="1.8"/><circle cx="549.01" cy="295.81" r="1.8"/><circle cx="574" cy="297.72" r="1.8"/><circle cx="619.31" cy="293.13" r="1.8"/><circle cx="614.37" cy="294.69" r="1.8"/><circle cx="614.69" cy="296.43" r="1.8"/><circle cx="600.47" cy="298.2" r="1.8"/><circle cx="572.9" cy="295.89" r="1.8"/><circle cx="544.72" cy="294.95" r="1.8"/><circle cx="616.16" cy="297.13" r="1.8"/><circle cx="553.78" cy="296.63" r="1.8"/><circle cx="571.25" cy="295" r="1.8"/><circle cx="606.15" cy="294.72" r="1.8"/><circle cx="613.46" cy="295.56" r="1.8"/><circle cx="558.98" cy="292.5" r="1.8"/><circle cx="546.77" cy="298.51" r="1.8"/><circle cx="575.31" cy="296.59" r="1.8"/><circle cx="547.55" cy="292.14" r="1.8"/><circle cx="547.11" cy="299.45" r="1.8"/><circle cx="563.78" cy="297.02" r="1.8"/><circle cx="600.55" cy="296.76" r="1.8"/><circle cx="564.92" cy="294.22" r="1.8"/><circle cx="616.33" cy="294.14" r="1.8"/><circle cx="598.25" cy="294.25" r="1.8"/><circle cx="544.78" cy="295.46" r="1.8"/><circle cx="592.05" cy="291.2" r="1.8"/><circle cx="615.24" cy="296.74" r="1.8"/><circle cx="580.14" cy="295.52" r="1.8"/><circle cx="616.04" cy="294.15" r="1.8"/><circle cx="576.75" cy="296.29" r="1.8"/><circle cx="581.51" cy="296.77" r="1.8"/><circle cx="599.89" cy="298.59" r="1.8"/><circle cx="606.21" cy="295.69" r="1.8"/><circle cx="569.08" cy="292.59" r="1.8"/><circle cx="571.64" cy="296.47" r="1.8"/><circle cx="600.97" cy="295.93" r="1.8"/><circle cx="563.05" cy="295.78" r="1.8"/><circle cx="618.02" cy="295.51" r="1.8"/><circle cx="610.76" cy="296.86" r="1.8"/><circle cx="550.81" cy="295.18" r="1.8"/><circle cx="551.73" cy="292.15" r="1.8"/><circle cx="578.02" cy="295.33" r="1.8"/><circle cx="562.06" cy="292.89" r="1.8"/><circle cx="595.06" cy="296.69" r="1.8"/><circle cx="600.6" cy="296.99" r="1.8"/><circle cx="553.59" cy="292.88" r="1.8"/><circle cx="607.57" cy="294.6" r="1.8"/><circle cx="572.47" cy="297.79" r="1.8"/><circle cx="559.44" cy="295.32" r="1.8"/><circle cx="556" cy="296.8" r="1.8"/><circle cx="610.81" cy="293.73" r="1.8"/><circle cx="574.21" cy="294.46" r="1.8"/><circle cx="605.13" cy="291.8" r="1.8"/><circle cx="552.17" cy="291.2" r="1.8"/><circle cx="580.11" cy="297.69" r="1.8"/><circle cx="547.53" cy="291.56" r="1.8"/><circle cx="558.72" cy="297.91" r="1.8"/><circle cx="614.26" cy="294.85" r="1.8"/><circle cx="572.42" cy="293.83" r="1.8"/><circle cx="602.83" cy="295.79" r="1.8"/><circle cx="615.43" cy="297.42" r="1.8"/><circle cx="591" cy="296.96" r="1.8"/><circle cx="560.82" cy="294.55" r="1.8"/><circle cx="559.8" cy="296.11" r="1.8"/><circle cx="563.62" cy="292.94" r="1.8"/><circle cx="559.76" cy="293.6" r="1.8"/><circle cx="545.35" cy="293.89" r="1.8"/><circle cx="558.39" cy="297.96" r="1.8"/><circle cx="604.15" cy="294.61" r="1.8"/><circle cx="552.1" cy="295.09" r="1.8"/><circle cx="574.15" cy="294.74" r="1.8"/><circle cx="556.78" cy="294.63" r="1.8"/><circle cx="596.66" cy="293.92" r="1.8"/><circle cx="567.57" cy="296.18" r="1.8"/><circle cx="567.93" cy="294.01" r="1.8"/><circle cx="609.32" cy="296.92" r="1.8"/><circle cx="619.25" cy="294.43" r="1.8"/><circle cx="599.1" cy="296.3" r="1.8"/><circle cx="559.78" cy="299.5" r="1.8"/><circle cx="576.28" cy="295.46" r="1.8"/><circle cx="606.03" cy="291.86" r="1.8"/><circle cx="545.61" cy="297.6" r="1.8"/><circle cx="612.73" cy="297.67" r="1.8"/><circle cx="572.31" cy="296.78" r="1.8"/><circle cx="555.44" cy="294.8" r="1.8"/><circle cx="613.91" cy="297.67" r="1.8"/><circle cx="552.66" cy="291.69" r="1.8"/><circle cx="617.02" cy="295.52" r="1.8"/><circle cx="559.3" cy="298.65" r="1.8"/><circle cx="617.67" cy="298.72" r="1.8"/><circle cx="613.96" cy="292" r="1.8"/><circle cx="591.03" cy="298.11" r="1.8"/><circle cx="606.34" cy="297.18" r="1.8"/><circle cx="561.16" cy="298.27" r="1.8"/><circle cx="574.84" cy="295.91" r="1.8"/><circle cx="560.86" cy="294.18" r="1.8"/><circle cx="574.48" cy="294.54" r="1.8"/><circle cx="563.03" cy="295.98" r="1.8"/><circle cx="598.87" cy="295.76" r="1.8"/><circle cx="586.68" cy="294.95" r="1.8"/><circle cx="601.31" cy="299.01" r="1.8"/><circle cx="553.33" cy="296.21" r="1.8"/><circle cx="589.46" cy="292.63" r="1.8"/><circle cx="567.47" cy="294.43" r="1.8"/><circle cx="588.2" cy="292.68" r="1.8"/><circle cx="578.01" cy="296.62" r="1.8"/><circle cx="577.38" cy="298.05" r="1.8"/><circle cx="601.77" cy="295.71" r="1.8"/><circle cx="603" cy="294.08" r="1.8"/><circle cx="554.13" cy="295.63" r="1.8"/><circle cx="576.79" cy="297.11" r="1.8"/><circle cx="592.23" cy="296.48" r="1.8"/><circle cx="550.67" cy="294.94" r="1.8"/><circle cx="615.82" cy="291.85" r="1.8"/><circle cx="554.71" cy="299.45" r="1.8"/><circle cx="599.41" cy="291.2" r="1.8"/><circle cx="605.62" cy="297.26" r="1.8"/><circle cx="581.39" cy="299.5" r="1.8"/><circle cx="613.2" cy="297.09" r="1.8"/><circle cx="614.29" cy="298.34" r="1.8"/><circle cx="549.41" cy="293.31" r="1.8"/><circle cx="556.41" cy="298.01" r="1.8"/><circle cx="611.74" cy="294.72" r="1.8"/><circle cx="555.27" cy="298.93" r="1.8"/><circle cx="582.17" cy="295.7" r="1.8"/><circle cx="547.26" cy="296.81" r="1.8"/><circle cx="558.16" cy="297.78" r="1.8"/><circle cx="595.48" cy="299.28" r="1.8"/><circle cx="611.66" cy="297.01" r="1.8"/><circle cx="553.13" cy="298.36" r="1.8"/><circle cx="571.48" cy="292.82" r="1.8"/><circle cx="610.69" cy="294.4" r="1.8"/><circle cx="552.35" cy="298.12" r="1.8"/><circle cx="574.07" cy="295.18" r="1.8"/><circle cx="564.36" cy="297.92" r="1.8"/><circle cx="571.52" cy="295.14" r="1.8"/><circle cx="577.67" cy="296.77" r="1.8"/><circle cx="548.12" cy="298.26" r="1.8"/><circle cx="605.99" cy="295.23" r="1.8"/><circle cx="618.3" cy="298.16" r="1.8"/><circle cx="588.44" cy="294.41" r="1.8"/><circle cx="544.63" cy="293.82" r="1.8"/><circle cx="547.03" cy="296.94" r="1.8"/><circle cx="576.92" cy="297.53" r="1.8"/><circle cx="582.95" cy="296.27" r="1.8"/></g>
<circle cx="582.7" cy="245.6" r="3.1" fill="#000"/>
<circle cx="598.1" cy="28.1" r="1.85" fill="none" stroke="#e8291c" stroke-width="1.35"/>
<text x="607.2" y="29.8" font-size="10.2" fill="#e01f26" transform="rotate(90 607.2 29.8)" textLength="195.5" lengthAdjust="spacingAndGlyphs">NODE_3172_length_715_cov_43.122727</text>
<text x="660" y="27.8" font-size="12" fill="#111" textLength="93" lengthAdjust="spacingAndGlyphs">Coverage range</text>
<rect x="648.3" y="32.9" width="124.7" height="304.7" fill="#fff"/>
<rect x="648.3" y="58.2" width="124.7" height="35.2" fill="#f8ca7e"/>
<rect x="648.3" y="93.4" width="124.7" height="35.2" fill="#bebebe"/>
<rect x="648.3" y="128.6" width="124.7" height="34.4" fill="#bebebe"/>
<rect x="648.3" y="163" width="124.7" height="34.2" fill="#f8ca7e"/>
<rect x="648.3" y="197.2" width="124.7" height="34.5" fill="#bebebe"/>
<rect x="648.3" y="231.7" width="124.7" height="34" fill="#f8ca7e"/>
<rect x="648.3" y="265.7" width="124.7" height="37" fill="#bebebe"/>
<rect x="648.3" y="302.7" width="124.7" height="34.9" fill="#f8ca7e"/>
<path d="M648.3 128.6H773.0" stroke="#a9a9a9" stroke-width="0.8"/>
<rect x="648.3" y="32.9" width="124.7" height="304.7" fill="none" stroke="#3c3c3c" stroke-width="1.3"/>
<path d="M648.3 58.2H773.0" stroke="#2a2a2a" stroke-width="1.3"/>
<text x="655.9" y="51.1" font-size="12.8" fill="#111" font-weight="bold">Sp.</text>
<text x="685.8" y="51.1" font-size="12.8" fill="#111" font-weight="bold" textLength="66.6" lengthAdjust="spacingAndGlyphs">Cov. range</text>
<text x="659" y="81.2" font-size="12.4" fill="#1a1a1a">FC1</text>
<text x="700" y="81.2" font-size="13" fill="#1a1a1a">[555,12858]</text>
<text x="658" y="116.2" font-size="12.4" fill="#1a1a1a">FC2</text>
<text x="700" y="116.2" font-size="13" fill="#1a1a1a">[491,20088]</text>
<text x="659" y="150.8" font-size="12.4" fill="#1a1a1a">FC3</text>
<text x="700" y="150.8" font-size="13" fill="#1a1a1a">[236,1131]</text>
<text x="659" y="185.6" font-size="12.4" fill="#1a1a1a">FC4</text>
<text x="700" y="185.6" font-size="13" fill="#1a1a1a">[57,502]</text>
<text x="659" y="219.8" font-size="12.4" fill="#1a1a1a">FC5</text>
<text x="701.5" y="219.8" font-size="13" fill="#1a1a1a">[48,130]</text>
<text x="658" y="254.2" font-size="12.4" fill="#1a1a1a">FC6</text>
<text x="701.5" y="254.2" font-size="13" fill="#1a1a1a">[ 20,51]</text>
<text x="659" y="290.8" font-size="12.4" fill="#1a1a1a">FC7</text>
<text x="700.5" y="290.8" font-size="13" fill="#1a1a1a">[4,35]</text>
<text x="659" y="325.2" font-size="12.4" fill="#1a1a1a">FC8-9</text>
<text x="701.5" y="325.2" font-size="13" fill="#1a1a1a">[0,22]</text>
<rect x="58.5" y="360.2" width="716.7" height="206.9" fill="none" stroke="#000" stroke-width="1.5"/>
<path d="M52 559.3H58.5" stroke="#000" stroke-width="1.3"/>
<text x="42.8" y="560.1" font-size="15.2" fill="#111" text-anchor="middle" transform="rotate(-90 42.8 560.1)">0</text>
<path d="M52 515.74H58.5" stroke="#000" stroke-width="1.3"/>
<text x="42.8" y="516.54" font-size="15.2" fill="#111" text-anchor="middle" transform="rotate(-90 42.8 516.54)">20</text>
<path d="M52 472.18H58.5" stroke="#000" stroke-width="1.3"/>
<text x="42.8" y="472.98" font-size="15.2" fill="#111" text-anchor="middle" transform="rotate(-90 42.8 472.98)">40</text>
<path d="M52 428.62H58.5" stroke="#000" stroke-width="1.3"/>
<text x="42.8" y="429.42" font-size="15.2" fill="#111" text-anchor="middle" transform="rotate(-90 42.8 429.42)">60</text>
<path d="M52 385.06H58.5" stroke="#000" stroke-width="1.3"/>
<text x="42.8" y="385.86" font-size="15.2" fill="#111" text-anchor="middle" transform="rotate(-90 42.8 385.86)">80</text>
<text x="16.7" y="464.9" font-size="18.8" fill="#111" text-anchor="middle" transform="rotate(-90 16.7 464.9)" textLength="92.2" lengthAdjust="spacingAndGlyphs">Frequency</text>
<path d="M85.04 567.1V573.6" stroke="#000" stroke-width="1.3"/>
<text x="85.04" y="587.6" font-size="15.2" fill="#111" text-anchor="middle">0</text>
<path d="M197.34 567.1V573.6" stroke="#000" stroke-width="1.3"/>
<text x="194.64" y="587.6" font-size="15.2" fill="#111" text-anchor="middle">1,000</text>
<path d="M309.64 567.1V573.6" stroke="#000" stroke-width="1.3"/>
<text x="306.94" y="587.6" font-size="15.2" fill="#111" text-anchor="middle">2,000</text>
<path d="M421.94 567.1V573.6" stroke="#000" stroke-width="1.3"/>
<text x="419.24" y="587.6" font-size="15.2" fill="#111" text-anchor="middle">3,000</text>
<path d="M534.24 567.1V573.6" stroke="#000" stroke-width="1.3"/>
<text x="531.54" y="587.6" font-size="15.2" fill="#111" text-anchor="middle">4,000</text>
<path d="M646.54 567.1V573.6" stroke="#000" stroke-width="1.3"/>
<text x="643.84" y="587.6" font-size="15.2" fill="#111" text-anchor="middle">5,000</text>
<path d="M758.84 567.1V573.6" stroke="#000" stroke-width="1.3"/>
<text x="756.14" y="587.6" font-size="15.2" fill="#111" text-anchor="middle">6,000</text>
<path d="M85.04 559.3L85.04 367.64L85.71 367.64L85.71 448.22L86.39 448.22L86.39 448.22L87.06 448.22L87.06 448.22L87.74 448.22L87.74 448.22L88.41 448.22L88.41 493.96L89.08 493.96L89.08 524.45L89.76 524.45L89.76 541.88L90.43 541.88L90.43 552.77L91.1 552.77L91.1 552.77L91.78 552.77L91.78 544.05L92.45 544.05L92.45 539.7L93.13 539.7L93.13 535.34L93.8 535.34L93.8 535.34L94.47 535.34L94.47 535.34L95.15 535.34L95.15 537.52L95.82 537.52L95.82 541.88L96.49 541.88L96.49 544.05L97.17 544.05L97.17 548.41L97.84 548.41L97.84 550.59L98.52 550.59L98.52 557.12L99.19 557.12L99.19 554.94L99.86 554.94L99.86 557.12L100.54 557.12L100.54 552.77L101.21 552.77L101.21 557.12L101.89 557.12L101.89 552.77L102.56 552.77L102.56 554.94L103.23 554.94L103.23 554.94L103.91 554.94L103.91 557.12L104.58 557.12L104.58 559.3L105.25 559.3L105.25 559.3L105.93 559.3L105.93 559.3L106.6 559.3L106.6 559.3L107.28 559.3L107.28 557.12L107.95 557.12L107.95 557.12L108.62 557.12L108.62 559.3L109.3 559.3L109.3 554.94L109.97 554.94L109.97 559.3L110.64 559.3L110.64 554.94L111.32 554.94L111.32 557.12L111.99 557.12L111.99 557.12L112.67 557.12L112.67 557.12L113.34 557.12L113.34 554.94L114.01 554.94L114.01 559.3L114.69 559.3L114.69 557.12L115.36 557.12L115.36 554.94L116.03 554.94L116.03 557.12L116.71 557.12L116.71 557.12L117.38 557.12L117.38 557.12L118.06 557.12L118.06 557.12L118.73 557.12L118.73 559.3L119.4 559.3L119.4 557.12L120.08 557.12L120.08 557.12L120.75 557.12L120.75 559.3L121.43 559.3L121.43 557.12L122.1 557.12L122.1 557.12L122.77 557.12L122.77 557.12L123.45 557.12L123.45 559.3L124.12 559.3L124.12 557.12L124.79 557.12L124.79 559.3L125.47 559.3L125.47 557.12L126.14 557.12L126.14 557.12L126.82 557.12L126.82 557.12L127.49 557.12L127.49 559.3L128.16 559.3L128.16 559.3L128.84 559.3L128.84 557.12L129.51 557.12L129.51 559.3L130.18 559.3L130.18 559.3L130.86 559.3L130.86 559.3L131.53 559.3L131.53 559.3L132.21 559.3L132.21 559.3L132.88 559.3L132.88 557.12L133.55 557.12L133.55 557.12L134.23 557.12L134.23 559.3L134.9 559.3L134.9 557.12L135.57 557.12L135.57 557.12L136.25 557.12L136.25 559.3L136.92 559.3L136.92 557.12L137.6 557.12L137.6 559.3L138.27 559.3L138.27 559.3L138.94 559.3L138.94 557.12L139.62 557.12L139.62 559.3L140.29 559.3L140.29 557.12L140.97 557.12L140.97 557.12L141.64 557.12L141.64 559.3L142.31 559.3L142.31 557.12L142.99 557.12L142.99 557.12L143.66 557.12L143.66 559.3L144.33 559.3L144.33 557.12L145.01 557.12L145.01 557.12L145.68 557.12L145.68 559.3L146.36 559.3L146.36 559.3L147.03 559.3L147.03 559.3L147.7 559.3L147.7 557.12L148.38 557.12L148.38 557.12L149.05 557.12L149.05 557.12L149.72 557.12L149.72 557.12L150.4 557.12L150.4 554.94L151.07 554.94L151.07 557.12L151.75 557.12L151.75 554.94L152.42 554.94L152.42 554.94L153.09 554.94L153.09 557.12L153.77 557.12L153.77 559.3L154.44 559.3L154.44 552.77L155.12 552.77L155.12 554.94L155.79 554.94L155.79 559.3L156.46 559.3L156.46 559.3L157.14 559.3L157.14 554.94L157.81 554.94L157.81 559.3L158.48 559.3L158.48 554.94L159.16 554.94L159.16 557.12L159.83 557.12L159.83 557.12L160.51 557.12L160.51 552.77L161.18 552.77L161.18 554.94L161.85 554.94L161.85 557.12L162.53 557.12L162.53 554.94L163.2 554.94L163.2 557.12L163.87 557.12L163.87 554.94L164.55 554.94L164.55 554.94L165.22 554.94L165.22 552.77L165.9 552.77L165.9 557.12L166.57 557.12L166.57 554.94L167.24 554.94L167.24 554.94L167.92 554.94L167.92 550.59L168.59 550.59L168.59 552.77L169.26 552.77L169.26 550.59L169.94 550.59L169.94 552.77L170.61 552.77L170.61 552.77L171.29 552.77L171.29 554.94L171.96 554.94L171.96 546.23L172.63 546.23L172.63 552.77L173.31 552.77L173.31 554.94L173.98 554.94L173.98 552.77L174.66 552.77L174.66 554.94L175.33 554.94L175.33 552.77L176 552.77L176 550.59L176.68 550.59L176.68 548.41L177.35 548.41L177.35 548.41L178.02 548.41L178.02 552.77L178.7 552.77L178.7 554.94L179.37 554.94L179.37 550.59L180.05 550.59L180.05 552.77L180.72 552.77L180.72 554.94L181.39 554.94L181.39 548.41L182.07 548.41L182.07 548.41L182.74 548.41L182.74 552.77L183.41 552.77L183.41 552.77L184.09 552.77L184.09 550.59L184.76 550.59L184.76 548.41L185.44 548.41L185.44 552.77L186.11 552.77L186.11 554.94L186.78 554.94L186.78 548.41L187.46 548.41L187.46 552.77L188.13 552.77L188.13 552.77L188.81 552.77L188.81 550.59L189.48 550.59L189.48 548.41L190.15 548.41L190.15 550.59L190.83 550.59L190.83 550.59L191.5 550.59L191.5 550.59L192.17 550.59L192.17 548.41L192.85 548.41L192.85 548.41L193.52 548.41L193.52 550.59L194.2 550.59L194.2 552.77L194.87 552.77L194.87 552.77L195.54 552.77L195.54 550.59L196.22 550.59L196.22 550.59L196.89 550.59L196.89 550.59L197.56 550.59L197.56 552.77L198.24 552.77L198.24 552.77L198.91 552.77L198.91 550.59L199.59 550.59L199.59 554.94L200.26 554.94L200.26 554.94L200.93 554.94L200.93 554.94L201.61 554.94L201.61 554.94L202.28 554.94L202.28 550.59L202.95 550.59L202.95 550.59L203.63 550.59L203.63 554.94L204.3 554.94L204.3 550.59L204.98 550.59L204.98 554.94L205.65 554.94L205.65 552.77L206.32 552.77L206.32 552.77L207 552.77L207 554.94L207.67 554.94L207.67 554.94L208.35 554.94L208.35 552.77L209.02 552.77L209.02 554.94L209.69 554.94L209.69 554.94L210.37 554.94L210.37 554.94L211.04 554.94L211.04 552.77L211.71 552.77L211.71 552.77L212.39 552.77L212.39 552.77L213.06 552.77L213.06 557.12L213.74 557.12L213.74 554.94L214.41 554.94L214.41 559.3L215.08 559.3L215.08 554.94L215.76 554.94L215.76 554.94L216.43 554.94L216.43 552.77L217.1 552.77L217.1 557.12L217.78 557.12L217.78 557.12L218.45 557.12L218.45 557.12L219.13 557.12L219.13 559.3L219.8 559.3L219.8 554.94L220.47 554.94L220.47 557.12L221.15 557.12L221.15 557.12L221.82 557.12L221.82 559.3L222.5 559.3L222.5 559.3L223.17 559.3L223.17 557.12L223.84 557.12L223.84 554.94L224.52 554.94L224.52 559.3L225.19 559.3L225.19 559.3L225.86 559.3L225.86 554.94L226.54 554.94L226.54 559.3L227.21 559.3L227.21 557.12L227.89 557.12L227.89 559.3L228.56 559.3L228.56 554.94L229.23 554.94L229.23 557.12L229.91 557.12L229.91 557.12L230.58 557.12L230.58 559.3L231.25 559.3L231.25 559.3L231.93 559.3L231.93 559.3L232.6 559.3L232.6 559.3L233.28 559.3L233.28 557.12L233.95 557.12L233.95 554.94L234.62 554.94L234.62 554.94L235.3 554.94L235.3 557.12L235.97 557.12L235.97 559.3L236.64 559.3L236.64 557.12L237.32 557.12L237.32 557.12L237.99 557.12L237.99 557.12L238.67 557.12L238.67 557.12L239.34 557.12L239.34 557.12L240.01 557.12L240.01 559.3L240.69 559.3L240.69 554.94L241.36 554.94L241.36 559.3L242.04 559.3L242.04 559.3L242.71 559.3L242.71 557.12L243.38 557.12L243.38 559.3L244.06 559.3L244.06 557.12L244.73 557.12L244.73 559.3L245.4 559.3L245.4 559.3L246.08 559.3L246.08 559.3L246.75 559.3L246.75 559.3L247.43 559.3L247.43 559.3L248.1 559.3L248.1 559.3L248.77 559.3L248.77 559.3L249.45 559.3L249.45 559.3L250.12 559.3L250.12 559.3L250.79 559.3L250.79 559.3L251.47 559.3L251.47 557.12L252.14 557.12L252.14 559.3L252.82 559.3L252.82 559.3L253.49 559.3L253.49 559.3L254.16 559.3L254.16 559.3L254.84 559.3L254.84 559.3L255.51 559.3L255.51 559.3L256.19 559.3L256.19 559.3L256.86 559.3L256.86 559.3L257.53 559.3L257.53 559.3L258.21 559.3L258.21 559.3L258.88 559.3L258.88 557.12L259.55 557.12L259.55 559.3L260.23 559.3L260.23 559.3L260.9 559.3L260.9 557.12L261.58 557.12L261.58 559.3L262.25 559.3L262.25 559.3L262.92 559.3L262.92 559.3L263.6 559.3L263.6 559.3L264.27 559.3L264.27 559.3L264.94 559.3L264.94 559.3L265.62 559.3L265.62 559.3L266.29 559.3L266.29 559.3L266.97 559.3L266.97 559.3L267.64 559.3L267.64 559.3L268.31 559.3L268.31 559.3L268.99 559.3L268.99 559.3L269.66 559.3L269.66 559.3L270.33 559.3L270.33 559.3L271.01 559.3L271.01 559.3L271.68 559.3L271.68 559.3L272.36 559.3L272.36 559.3L273.03 559.3L273.03 557.12L273.7 557.12L273.7 559.3L274.38 559.3L274.38 559.3L275.05 559.3L275.05 557.12L275.73 557.12L275.73 559.3L276.4 559.3L276.4 557.12L277.07 557.12L277.07 559.3L277.75 559.3L277.75 559.3L278.42 559.3L278.42 559.3L279.09 559.3L279.09 559.3L279.77 559.3L279.77 559.3L280.44 559.3L280.44 559.3L281.12 559.3L281.12 559.3L281.79 559.3L281.79 559.3L282.46 559.3L282.46 559.3L283.14 559.3L283.14 559.3L283.81 559.3L283.81 559.3L284.48 559.3L284.48 559.3L285.16 559.3L285.16 559.3L285.83 559.3L285.83 559.3L286.51 559.3L286.51 559.3L287.18 559.3L287.18 559.3L287.85 559.3L287.85 559.3L288.53 559.3L288.53 559.3L289.2 559.3L289.2 559.3L289.88 559.3L289.88 559.3L290.55 559.3L290.55 559.3L291.22 559.3L291.22 559.3L291.9 559.3L291.9 559.3L292.57 559.3L292.57 559.3L293.24 559.3L293.24 559.3L293.92 559.3L293.92 559.3L294.59 559.3L294.59 559.3L295.27 559.3L295.27 559.3L295.94 559.3L295.94 559.3L296.61 559.3L296.61 557.12L297.29 557.12L297.29 559.3L297.96 559.3L297.96 559.3L298.63 559.3L298.63 559.3L299.31 559.3L299.31 559.3L299.98 559.3L299.98 559.3L300.66 559.3L300.66 557.12L301.33 557.12L301.33 559.3L302 559.3L302 559.3L302.68 559.3L302.68 559.3L303.35 559.3L303.35 559.3L304.02 559.3L304.02 559.3L304.7 559.3L304.7 559.3L305.37 559.3L305.37 559.3L306.05 559.3L306.05 559.3L306.72 559.3L306.72 559.3L307.39 559.3L307.39 559.3L308.07 559.3L308.07 559.3L308.74 559.3L308.74 559.3L309.42 559.3L309.42 557.12L310.09 557.12L310.09 559.3L310.76 559.3L310.76 559.3L311.44 559.3L311.44 559.3L312.11 559.3L312.11 559.3L312.78 559.3L312.78 559.3L313.46 559.3L313.46 559.3L314.13 559.3L314.13 559.3L314.81 559.3L314.81 559.3L315.48 559.3L315.48 559.3L316.15 559.3L316.15 557.12L316.83 557.12L316.83 559.3L317.5 559.3L317.5 559.3L318.17 559.3L318.17 559.3L318.85 559.3L318.85 559.3L319.52 559.3L319.52 559.3L320.2 559.3L320.2 559.3L320.87 559.3L320.87 559.3L321.54 559.3L321.54 559.3L322.22 559.3L322.22 559.3L322.89 559.3L322.89 559.3L323.57 559.3L323.57 559.3L324.24 559.3L324.24 559.3L324.91 559.3L324.91 559.3L325.59 559.3L325.59 559.3L326.26 559.3L326.26 559.3L326.93 559.3L326.93 559.3L327.61 559.3L327.61 559.3L328.28 559.3L328.28 559.3L328.96 559.3L328.96 559.3L329.63 559.3L329.63 559.3L330.3 559.3L330.3 559.3L330.98 559.3L330.98 559.3L331.65 559.3L331.65 559.3L332.32 559.3L332.32 559.3L333 559.3L333 557.12L333.67 557.12L333.67 559.3L334.35 559.3L334.35 559.3L335.02 559.3L335.02 559.3L335.69 559.3L335.69 559.3L336.37 559.3L336.37 559.3L337.04 559.3L337.04 559.3L337.71 559.3L337.71 559.3L338.39 559.3L338.39 559.3L339.06 559.3L339.06 559.3L339.74 559.3L339.74 559.3L340.41 559.3L340.41 559.3L341.08 559.3L341.08 559.3L341.76 559.3L341.76 559.3L342.43 559.3L342.43 559.3L343.11 559.3L343.11 559.3L343.78 559.3L343.78 559.3L344.45 559.3L344.45 559.3L345.13 559.3L345.13 559.3L345.8 559.3L345.8 559.3L346.47 559.3L346.47 559.3L347.15 559.3L347.15 559.3L347.82 559.3L347.82 559.3L348.5 559.3L348.5 559.3L349.17 559.3L349.17 559.3L349.84 559.3L349.84 559.3L350.52 559.3L350.52 559.3L351.19 559.3L351.19 559.3L351.86 559.3L351.86 559.3L352.54 559.3L352.54 559.3L353.21 559.3L353.21 559.3L353.89 559.3L353.89 559.3L354.56 559.3L354.56 559.3L355.23 559.3L355.23 557.12L355.91 557.12L355.91 559.3L356.58 559.3L356.58 559.3L357.26 559.3L357.26 559.3L357.93 559.3L357.93 559.3L358.6 559.3L358.6 559.3L359.28 559.3L359.28 559.3L359.95 559.3L359.95 559.3L360.62 559.3L360.62 559.3L361.3 559.3L361.3 559.3L361.97 559.3L361.97 559.3L362.65 559.3L362.65 559.3L363.32 559.3L363.32 559.3L363.99 559.3L363.99 559.3L364.67 559.3L364.67 559.3L365.34 559.3L365.34 559.3L366.01 559.3L366.01 557.12L366.69 557.12L366.69 559.3L367.36 559.3L367.36 559.3L368.04 559.3L368.04 559.3L368.71 559.3L368.71 559.3L369.38 559.3L369.38 559.3L370.06 559.3L370.06 559.3L370.73 559.3L370.73 559.3L371.41 559.3L371.41 559.3L372.08 559.3L372.08 559.3L372.75 559.3L372.75 559.3L373.43 559.3L373.43 559.3L374.1 559.3L374.1 557.12L374.77 557.12L374.77 559.3L375.45 559.3L375.45 559.3L376.12 559.3L376.12 559.3L376.8 559.3L376.8 559.3L377.47 559.3L377.47 559.3L378.14 559.3L378.14 559.3L378.82 559.3L378.82 559.3L379.49 559.3L379.49 559.3L380.16 559.3L380.16 559.3L380.84 559.3L380.84 559.3L381.51 559.3L381.51 559.3L382.19 559.3L382.19 559.3L382.86 559.3L382.86 559.3L383.53 559.3L383.53 559.3L384.21 559.3L384.21 559.3L384.88 559.3L384.88 559.3L385.55 559.3L385.55 559.3L386.23 559.3L386.23 559.3L386.9 559.3L386.9 559.3L387.58 559.3L387.58 559.3L388.25 559.3L388.25 559.3L388.92 559.3L388.92 559.3L389.6 559.3L389.6 559.3L390.27 559.3L390.27 559.3L390.95 559.3L390.95 559.3L391.62 559.3L391.62 559.3L392.29 559.3L392.29 559.3L392.97 559.3L392.97 559.3L393.64 559.3L393.64 559.3L394.31 559.3L394.31 559.3L394.99 559.3L394.99 559.3L395.66 559.3L395.66 559.3L396.34 559.3L396.34 559.3L397.01 559.3L397.01 559.3L397.68 559.3L397.68 559.3L398.36 559.3L398.36 559.3L399.03 559.3L399.03 559.3L399.7 559.3L399.7 559.3L400.38 559.3L400.38 559.3L401.05 559.3L401.05 559.3L401.73 559.3L401.73 559.3L402.4 559.3L402.4 559.3L403.07 559.3L403.07 559.3L403.75 559.3L403.75 559.3L404.42 559.3L404.42 559.3L405.1 559.3L405.1 559.3L405.77 559.3L405.77 559.3L406.44 559.3L406.44 559.3L407.12 559.3L407.12 559.3L407.79 559.3L407.79 559.3L408.46 559.3L408.46 559.3L409.14 559.3L409.14 559.3L409.81 559.3L409.81 559.3L410.49 559.3L410.49 559.3L411.16 559.3L411.16 559.3L411.83 559.3L411.83 559.3L412.51 559.3L412.51 559.3L413.18 559.3L413.18 559.3L413.85 559.3L413.85 559.3L414.53 559.3L414.53 559.3L415.2 559.3L415.2 559.3L415.88 559.3L415.88 559.3L416.55 559.3L416.55 559.3L417.22 559.3L417.22 559.3L417.9 559.3L417.9 559.3L418.57 559.3L418.57 557.12L419.24 557.12L419.24 559.3L419.92 559.3L419.92 559.3L420.59 559.3L420.59 559.3L421.27 559.3L421.27 559.3L421.94 559.3L421.94 559.3L422.61 559.3L422.61 559.3L423.29 559.3L423.29 559.3L423.96 559.3L423.96 559.3L424.64 559.3L424.64 559.3L425.31 559.3L425.31 559.3L425.98 559.3L425.98 559.3L426.66 559.3L426.66 559.3L427.33 559.3L427.33 557.12L428 557.12L428 559.3L428.68 559.3L428.68 559.3L429.35 559.3L429.35 559.3L430.03 559.3L430.03 559.3L430.7 559.3L430.7 559.3L431.37 559.3L431.37 559.3L432.05 559.3L432.05 559.3L432.72 559.3L432.72 559.3L433.39 559.3L433.39 559.3L434.07 559.3L434.07 559.3L434.74 559.3L434.74 559.3L435.42 559.3L435.42 559.3L436.09 559.3L436.09 557.12L436.76 557.12L436.76 559.3L437.44 559.3L437.44 559.3L438.11 559.3L438.11 559.3L438.79 559.3L438.79 557.12L439.46 557.12L439.46 559.3L440.13 559.3L440.13 559.3L440.81 559.3L440.81 559.3L441.48 559.3L441.48 559.3L442.15 559.3L442.15 557.12L442.83 557.12L442.83 559.3L443.5 559.3L443.5 559.3L444.18 559.3L444.18 559.3L444.85 559.3L444.85 559.3L445.52 559.3L445.52 559.3L446.2 559.3L446.2 559.3L446.87 559.3L446.87 557.12L447.54 557.12L447.54 559.3L448.22 559.3L448.22 559.3L448.89 559.3L448.89 559.3L449.57 559.3L449.57 559.3L450.24 559.3L450.24 559.3L450.91 559.3L450.91 559.3L451.59 559.3L451.59 559.3L452.26 559.3L452.26 559.3L452.93 559.3L452.93 559.3L453.61 559.3L453.61 559.3L454.28 559.3L454.28 559.3L454.96 559.3L454.96 559.3L455.63 559.3L455.63 559.3L456.3 559.3L456.3 559.3L456.98 559.3L456.98 559.3L457.65 559.3L457.65 559.3L458.33 559.3L458.33 559.3L459 559.3L459 559.3L459.67 559.3L459.67 559.3L460.35 559.3L460.35 559.3L461.02 559.3L461.02 559.3L461.69 559.3L461.69 559.3L462.37 559.3L462.37 559.3L463.04 559.3L463.04 559.3L463.72 559.3L463.72 559.3L464.39 559.3L464.39 559.3L465.06 559.3L465.06 559.3L465.74 559.3L465.74 559.3L466.41 559.3L466.41 559.3L467.08 559.3L467.08 559.3L467.76 559.3L467.76 559.3L468.43 559.3L468.43 559.3L469.11 559.3L469.11 559.3L469.78 559.3L469.78 559.3L470.45 559.3L470.45 559.3L471.13 559.3L471.13 559.3L471.8 559.3L471.8 559.3L472.48 559.3L472.48 559.3L473.15 559.3L473.15 559.3L473.82 559.3L473.82 559.3L474.5 559.3L474.5 559.3L475.17 559.3L475.17 559.3L475.84 559.3L475.84 559.3L476.52 559.3L476.52 559.3L477.19 559.3L477.19 559.3L477.87 559.3L477.87 559.3L478.54 559.3L478.54 559.3L479.21 559.3L479.21 559.3L479.89 559.3L479.89 559.3L480.56 559.3L480.56 559.3L481.23 559.3L481.23 559.3L481.91 559.3L481.91 559.3L482.58 559.3L482.58 559.3L483.26 559.3L483.26 559.3L483.93 559.3L483.93 559.3L484.6 559.3L484.6 559.3L485.28 559.3L485.28 559.3L485.95 559.3L485.95 559.3L486.62 559.3L486.62 559.3L487.3 559.3L487.3 559.3L487.97 559.3L487.97 559.3L488.65 559.3L488.65 559.3L489.32 559.3L489.32 559.3L489.99 559.3L489.99 559.3L490.67 559.3L490.67 559.3L491.34 559.3L491.34 559.3L492.02 559.3L492.02 559.3L492.69 559.3L492.69 559.3L493.36 559.3L493.36 559.3L494.04 559.3L494.04 559.3L494.71 559.3L494.71 559.3L495.38 559.3L495.38 559.3L496.06 559.3L496.06 559.3L496.73 559.3L496.73 559.3L497.41 559.3L497.41 559.3L498.08 559.3L498.08 559.3L498.75 559.3L498.75 559.3L499.43 559.3L499.43 559.3L500.1 559.3L500.1 559.3L500.77 559.3L500.77 559.3L501.45 559.3L501.45 559.3L502.12 559.3L502.12 559.3L502.8 559.3L502.8 559.3L503.47 559.3L503.47 559.3L504.14 559.3L504.14 559.3L504.82 559.3L504.82 559.3L505.49 559.3L505.49 559.3L506.17 559.3L506.17 559.3L506.84 559.3L506.84 559.3L507.51 559.3L507.51 559.3L508.19 559.3L508.19 559.3L508.86 559.3L508.86 559.3L509.53 559.3L509.53 559.3L510.21 559.3L510.21 559.3L510.88 559.3L510.88 559.3L511.56 559.3L511.56 559.3L512.23 559.3L512.23 559.3L512.9 559.3L512.9 559.3L513.58 559.3L513.58 559.3L514.25 559.3L514.25 559.3L514.92 559.3L514.92 559.3L515.6 559.3L515.6 559.3L516.27 559.3L516.27 559.3L516.95 559.3L516.95 559.3L517.62 559.3L517.62 559.3L518.29 559.3L518.29 559.3L518.97 559.3L518.97 559.3L519.64 559.3L519.64 559.3L520.31 559.3L520.31 559.3L520.99 559.3L520.99 559.3L521.66 559.3L521.66 559.3L522.34 559.3L522.34 559.3L523.01 559.3L523.01 559.3L523.68 559.3L523.68 559.3L524.36 559.3L524.36 559.3L525.03 559.3L525.03 559.3L525.71 559.3L525.71 559.3L526.38 559.3L526.38 559.3L527.05 559.3L527.05 559.3L527.73 559.3L527.73 559.3L528.4 559.3L528.4 559.3L529.07 559.3L529.07 559.3L529.75 559.3L529.75 559.3L530.42 559.3L530.42 559.3L531.1 559.3L531.1 559.3L531.77 559.3L531.77 559.3L532.44 559.3L532.44 559.3L533.12 559.3L533.12 559.3L533.79 559.3L533.79 559.3L534.46 559.3L534.46 559.3L535.14 559.3L535.14 559.3L535.81 559.3L535.81 559.3L536.49 559.3L536.49 559.3L537.16 559.3L537.16 559.3L537.83 559.3L537.83 559.3L538.51 559.3L538.51 559.3L539.18 559.3L539.18 559.3L539.86 559.3L539.86 559.3L540.53 559.3L540.53 559.3L541.2 559.3L541.2 559.3L541.88 559.3L541.88 559.3L542.55 559.3L542.55 559.3L543.22 559.3L543.22 559.3L543.9 559.3L543.9 559.3L544.57 559.3L544.57 559.3L545.25 559.3L545.25 559.3L545.92 559.3L545.92 559.3L546.59 559.3L546.59 559.3L547.27 559.3L547.27 559.3L547.94 559.3L547.94 559.3L548.61 559.3L548.61 559.3L549.29 559.3L549.29 559.3L549.96 559.3L549.96 559.3L550.64 559.3L550.64 559.3L551.31 559.3L551.31 559.3L551.98 559.3L551.98 559.3L552.66 559.3L552.66 559.3L553.33 559.3L553.33 559.3L554 559.3L554 559.3L554.68 559.3L554.68 559.3L555.35 559.3L555.35 559.3L556.03 559.3L556.03 559.3L556.7 559.3L556.7 559.3L557.37 559.3L557.37 559.3L558.05 559.3L558.05 559.3L558.72 559.3L558.72 559.3L559.4 559.3L559.4 559.3L560.07 559.3L560.07 559.3L560.74 559.3L560.74 559.3L561.42 559.3L561.42 559.3L562.09 559.3L562.09 559.3L562.76 559.3L562.76 559.3L563.44 559.3L563.44 559.3L564.11 559.3L564.11 559.3L564.79 559.3L564.79 559.3L565.46 559.3L565.46 559.3L566.13 559.3L566.13 559.3L566.81 559.3L566.81 559.3L567.48 559.3L567.48 559.3L568.15 559.3L568.15 559.3L568.83 559.3L568.83 559.3L569.5 559.3L569.5 559.3L570.18 559.3L570.18 559.3L570.85 559.3L570.85 559.3L571.52 559.3L571.52 559.3L572.2 559.3L572.2 559.3L572.87 559.3L572.87 559.3L573.54 559.3L573.54 559.3L574.22 559.3L574.22 557.12L574.89 557.12L574.89 559.3L575.57 559.3L575.57 559.3L576.24 559.3L576.24 559.3L576.91 559.3L576.91 559.3L577.59 559.3L577.59 559.3L578.26 559.3L578.26 559.3L578.94 559.3L578.94 559.3L579.61 559.3L579.61 559.3L580.28 559.3L580.28 559.3L580.96 559.3L580.96 557.12L581.63 557.12L581.63 559.3L582.3 559.3L582.3 559.3L582.98 559.3L582.98 559.3L583.65 559.3L583.65 559.3L584.33 559.3L584.33 559.3L585 559.3L585 559.3L585.67 559.3L585.67 559.3L586.35 559.3L586.35 559.3L587.02 559.3L587.02 559.3L587.69 559.3L587.69 559.3L588.37 559.3L588.37 559.3L589.04 559.3L589.04 559.3L589.72 559.3L589.72 559.3L590.39 559.3L590.39 559.3L591.06 559.3L591.06 557.12L591.74 557.12L591.74 559.3L592.41 559.3L592.41 559.3L593.09 559.3L593.09 559.3L593.76 559.3L593.76 559.3L594.43 559.3L594.43 559.3L595.11 559.3L595.11 559.3L595.78 559.3L595.78 559.3L596.45 559.3L596.45 559.3L597.13 559.3L597.13 559.3L597.8 559.3L597.8 559.3L598.48 559.3L598.48 559.3L599.15 559.3L599.15 559.3L599.82 559.3L599.82 559.3L600.5 559.3L600.5 559.3L601.17 559.3L601.17 559.3L601.84 559.3L601.84 559.3L602.52 559.3L602.52 559.3L603.19 559.3L603.19 559.3L603.87 559.3L603.87 559.3L604.54 559.3L604.54 559.3L605.21 559.3L605.21 559.3L605.89 559.3L605.89 559.3L606.56 559.3L606.56 559.3L607.23 559.3L607.23 559.3L607.91 559.3L607.91 559.3L608.58 559.3L608.58 559.3L609.26 559.3L609.26 557.12L609.93 557.12L609.93 559.3L610.6 559.3L610.6 559.3L611.28 559.3L611.28 559.3L611.95 559.3L611.95 559.3L612.63 559.3L612.63 559.3L613.3 559.3L613.3 559.3L613.97 559.3L613.97 559.3L614.65 559.3L614.65 559.3L615.32 559.3L615.32 559.3L615.99 559.3L615.99 559.3L616.67 559.3L616.67 559.3L617.34 559.3L617.34 559.3L618.02 559.3L618.02 559.3L618.69 559.3L618.69 559.3L619.36 559.3L619.36 559.3L620.04 559.3L620.04 559.3L620.71 559.3L620.71 559.3L621.38 559.3L621.38 559.3L622.06 559.3L622.06 559.3L622.73 559.3L622.73 559.3L623.41 559.3L623.41 559.3L624.08 559.3L624.08 559.3L624.75 559.3L624.75 559.3L625.43 559.3L625.43 559.3L626.1 559.3L626.1 559.3L626.78 559.3L626.78 559.3L627.45 559.3L627.45 559.3L628.12 559.3L628.12 559.3L628.8 559.3L628.8 559.3L629.47 559.3L629.47 559.3L630.14 559.3L630.14 559.3L630.82 559.3L630.82 559.3L631.49 559.3L631.49 559.3L632.17 559.3L632.17 559.3L632.84 559.3L632.84 559.3L633.51 559.3L633.51 559.3L634.19 559.3L634.19 559.3L634.86 559.3L634.86 559.3L635.53 559.3L635.53 559.3L636.21 559.3L636.21 559.3L636.88 559.3L636.88 559.3L637.56 559.3L637.56 559.3L638.23 559.3L638.23 559.3L638.9 559.3L638.9 559.3L639.58 559.3L639.58 559.3L640.25 559.3L640.25 559.3L640.92 559.3L640.92 559.3L641.6 559.3L641.6 559.3L642.27 559.3L642.27 559.3L642.95 559.3L642.95 559.3L643.62 559.3L643.62 559.3L644.29 559.3L644.29 559.3L644.97 559.3L644.97 559.3L645.64 559.3L645.64 559.3L646.32 559.3L646.32 559.3L646.99 559.3L646.99 559.3L647.66 559.3L647.66 559.3L648.34 559.3L648.34 559.3L649.01 559.3L649.01 559.3L649.68 559.3L649.68 559.3L650.36 559.3L650.36 559.3L651.03 559.3L651.03 559.3L651.71 559.3L651.71 559.3L652.38 559.3L652.38 559.3L653.05 559.3L653.05 559.3L653.73 559.3L653.73 559.3L654.4 559.3L654.4 559.3L655.07 559.3L655.07 559.3L655.75 559.3L655.75 559.3L656.42 559.3L656.42 559.3L657.1 559.3L657.1 559.3L657.77 559.3L657.77 559.3L658.44 559.3L658.44 559.3L659.12 559.3L659.12 559.3L659.79 559.3L659.79 559.3L660.47 559.3L660.47 559.3L661.14 559.3L661.14 559.3L661.81 559.3L661.81 559.3L662.49 559.3L662.49 559.3L663.16 559.3L663.16 559.3L663.83 559.3L663.83 559.3L664.51 559.3L664.51 559.3L665.18 559.3L665.18 559.3L665.86 559.3L665.86 559.3L666.53 559.3L666.53 559.3L667.2 559.3L667.2 559.3L667.88 559.3L667.88 559.3L668.55 559.3L668.55 559.3L669.22 559.3L669.22 559.3L669.9 559.3L669.9 559.3L670.57 559.3L670.57 559.3L671.25 559.3L671.25 559.3L671.92 559.3L671.92 559.3L672.59 559.3L672.59 559.3L673.27 559.3L673.27 559.3L673.94 559.3L673.94 559.3L674.61 559.3L674.61 559.3L675.29 559.3L675.29 559.3L675.96 559.3L675.96 559.3L676.64 559.3L676.64 559.3L677.31 559.3L677.31 559.3L677.98 559.3L677.98 559.3L678.66 559.3L678.66 559.3L679.33 559.3L679.33 559.3L680.01 559.3L680.01 559.3L680.68 559.3L680.68 559.3L681.35 559.3L681.35 559.3L682.03 559.3L682.03 559.3L682.7 559.3L682.7 559.3L683.37 559.3L683.37 559.3L684.05 559.3L684.05 559.3L684.72 559.3L684.72 559.3L685.4 559.3L685.4 559.3L686.07 559.3L686.07 559.3L686.74 559.3L686.74 559.3L687.42 559.3L687.42 559.3L688.09 559.3L688.09 559.3L688.76 559.3L688.76 559.3L689.44 559.3L689.44 559.3L690.11 559.3L690.11 559.3L690.79 559.3L690.79 559.3L691.46 559.3L691.46 559.3L692.13 559.3L692.13 559.3L692.81 559.3L692.81 559.3L693.48 559.3L693.48 559.3L694.16 559.3L694.16 559.3L694.83 559.3L694.83 559.3L695.5 559.3L695.5 559.3L696.18 559.3L696.18 559.3L696.85 559.3L696.85 559.3L697.52 559.3L697.52 559.3L698.2 559.3L698.2 559.3L698.87 559.3L698.87 559.3L699.55 559.3L699.55 559.3L700.22 559.3L700.22 559.3L700.89 559.3L700.89 559.3L701.57 559.3L701.57 559.3L702.24 559.3L702.24 559.3L702.91 559.3L702.91 559.3L703.59 559.3L703.59 559.3L704.26 559.3L704.26 559.3L704.94 559.3L704.94 559.3L705.61 559.3L705.61 559.3L706.28 559.3L706.28 559.3L706.96 559.3L706.96 559.3L707.63 559.3L707.63 559.3L708.3 559.3L708.3 559.3L708.98 559.3L708.98 559.3L709.65 559.3L709.65 559.3L710.33 559.3L710.33 559.3L711 559.3L711 559.3L711.67 559.3L711.67 559.3L712.35 559.3L712.35 559.3L713.02 559.3L713.02 559.3L713.7 559.3L713.7 559.3L714.37 559.3L714.37 559.3L715.04 559.3L715.04 559.3L715.72 559.3L715.72 559.3L716.39 559.3L716.39 559.3L717.06 559.3L717.06 559.3L717.74 559.3L717.74 559.3L718.41 559.3L718.41 559.3L719.09 559.3L719.09 559.3L719.76 559.3L719.76 559.3L720.43 559.3L720.43 559.3L721.11 559.3L721.11 559.3L721.78 559.3L721.78 559.3L722.45 559.3L722.45 559.3L723.13 559.3L723.13 559.3L723.8 559.3L723.8 559.3L724.48 559.3L724.48 559.3L725.15 559.3L725.15 559.3L725.82 559.3L725.82 559.3L726.5 559.3L726.5 559.3L727.17 559.3L727.17 559.3L727.85 559.3L727.85 559.3L728.52 559.3L728.52 559.3L729.19 559.3L729.19 559.3L729.87 559.3L729.87 559.3L730.54 559.3L730.54 559.3L731.21 559.3L731.21 559.3L731.89 559.3L731.89 559.3L732.56 559.3L732.56 559.3L733.24 559.3L733.24 559.3L733.91 559.3L733.91 559.3L734.58 559.3L734.58 559.3L735.26 559.3L735.26 559.3L735.93 559.3L735.93 559.3L736.6 559.3L736.6 559.3L737.28 559.3L737.28 559.3L737.95 559.3L737.95 559.3L738.63 559.3L738.63 559.3L739.3 559.3L739.3 559.3L739.97 559.3L739.97 559.3L740.65 559.3L740.65 559.3L741.32 559.3L741.32 559.3L741.99 559.3L741.99 559.3L742.67 559.3L742.67 559.3L743.34 559.3L743.34 559.3L744.02 559.3L744.02 559.3L744.69 559.3L744.69 559.3L745.36 559.3L745.36 559.3L746.04 559.3L746.04 559.3L746.71 559.3L746.71 559.3L747.39 559.3L747.39 559.3L748.06 559.3L748.06 557.12L748.73 557.12L748.73 559.3L749.41 559.3L749.86 559.3Z" fill="#0a0a0a" stroke="#0a0a0a" stroke-width="1.25" stroke-linejoin="miter"/>
<path d="M91.44 567.1V483.9H141.11V567.1" fill="none" stroke="#000" stroke-width="1.4" stroke-dasharray="6.2 5.2"/>
<path d="M146.77 567.1V528.1H757V567.1" fill="none" stroke="#000" stroke-width="1.4" stroke-dasharray="6.2 5.2"/>
<text x="97.6" y="480.2" font-size="17" fill="#111">FC4</text>
<text x="96.1" y="499.3" font-size="16.5" fill="#111">57</text>
<text x="146.8" y="497.5" font-size="16.5" fill="#111">502</text>
<text x="149.4" y="544.9" font-size="16.5" fill="#111">555</text>
<text x="396" y="526" font-size="16.5" fill="#111">FC1</text>
<rect x="58.5" y="596.2" width="716.7" height="207.1" fill="none" stroke="#000" stroke-width="1.5"/>
<path d="M52 796H58.5" stroke="#000" stroke-width="1.3"/>
<text x="42.8" y="796.8" font-size="15.2" fill="#111" text-anchor="middle" transform="rotate(-90 42.8 796.8)">0</text>
<path d="M52 752.44H58.5" stroke="#000" stroke-width="1.3"/>
<text x="42.8" y="753.24" font-size="15.2" fill="#111" text-anchor="middle" transform="rotate(-90 42.8 753.24)">20</text>
<path d="M52 708.88H58.5" stroke="#000" stroke-width="1.3"/>
<text x="42.8" y="709.68" font-size="15.2" fill="#111" text-anchor="middle" transform="rotate(-90 42.8 709.68)">40</text>
<path d="M52 665.32H58.5" stroke="#000" stroke-width="1.3"/>
<text x="42.8" y="666.12" font-size="15.2" fill="#111" text-anchor="middle" transform="rotate(-90 42.8 666.12)">60</text>
<path d="M52 621.76H58.5" stroke="#000" stroke-width="1.3"/>
<text x="42.8" y="622.56" font-size="15.2" fill="#111" text-anchor="middle" transform="rotate(-90 42.8 622.56)">80</text>
<text x="16.7" y="704.1" font-size="18.8" fill="#111" text-anchor="middle" transform="rotate(-90 16.7 704.1)" textLength="92.2" lengthAdjust="spacingAndGlyphs">Frequency</text>
<path d="M85.04 803.3V809.8" stroke="#000" stroke-width="1.3"/>
<text x="85.04" y="825" font-size="15.2" fill="#111" text-anchor="middle">0</text>
<path d="M151.38 803.3V809.8" stroke="#000" stroke-width="1.3"/>
<text x="151.38" y="825" font-size="15.2" fill="#111" text-anchor="middle">10</text>
<path d="M217.72 803.3V809.8" stroke="#000" stroke-width="1.3"/>
<text x="217.72" y="825" font-size="15.2" fill="#111" text-anchor="middle">20</text>
<path d="M284.06 803.3V809.8" stroke="#000" stroke-width="1.3"/>
<text x="284.06" y="825" font-size="15.2" fill="#111" text-anchor="middle">30</text>
<path d="M350.4 803.3V809.8" stroke="#000" stroke-width="1.3"/>
<text x="350.4" y="825" font-size="15.2" fill="#111" text-anchor="middle">40</text>
<path d="M416.74 803.3V809.8" stroke="#000" stroke-width="1.3"/>
<text x="416.74" y="825" font-size="15.2" fill="#111" text-anchor="middle">50</text>
<path d="M483.08 803.3V809.8" stroke="#000" stroke-width="1.3"/>
<text x="483.08" y="825" font-size="15.2" fill="#111" text-anchor="middle">60</text>
<path d="M549.42 803.3V809.8" stroke="#000" stroke-width="1.3"/>
<text x="549.42" y="825" font-size="15.2" fill="#111" text-anchor="middle">70</text>
<path d="M615.76 803.3V809.8" stroke="#000" stroke-width="1.3"/>
<text x="615.76" y="825" font-size="15.2" fill="#111" text-anchor="middle">80</text>
<path d="M682.1 803.3V809.8" stroke="#000" stroke-width="1.3"/>
<text x="682.1" y="825" font-size="15.2" fill="#111" text-anchor="middle">90</text>
<path d="M748.44 803.3V809.8" stroke="#000" stroke-width="1.3"/>
<text x="748.44" y="825" font-size="15.2" fill="#111" text-anchor="middle">100</text>
<text x="429" y="845.2" font-size="19.9" fill="#111" text-anchor="middle">Sequencing coverage</text>
<path d="M85.04 796H748.44" stroke="#000" stroke-width="1.3" stroke-linecap="square"/>
<g fill="#d3d3d3" stroke="#000" stroke-width="1.3" stroke-linejoin="miter"><rect x="85.04" y="796" width="6.63" height="0"/><rect x="91.67" y="796" width="6.63" height="0"/><rect x="98.31" y="793.82" width="6.63" height="2.18"/><rect x="104.94" y="793.82" width="6.63" height="2.18"/><rect x="111.58" y="789.47" width="6.63" height="6.53"/><rect x="118.21" y="791.64" width="6.63" height="4.36"/><rect x="124.84" y="785.11" width="6.63" height="10.89"/><rect x="131.48" y="778.58" width="6.63" height="17.42"/><rect x="138.11" y="741.55" width="6.63" height="54.45"/><rect x="144.75" y="697.99" width="6.63" height="98.01"/><rect x="151.38" y="639.18" width="6.63" height="156.82"/><rect x="158.01" y="608.69" width="6.63" height="187.31"/><rect x="164.65" y="604.34" width="6.63" height="191.66"/><rect x="171.28" y="660.96" width="6.63" height="135.04"/><rect x="177.92" y="717.59" width="6.63" height="78.41"/><rect x="184.55" y="717.59" width="6.63" height="78.41"/><rect x="191.18" y="739.37" width="6.63" height="56.63"/><rect x="197.82" y="748.08" width="6.63" height="47.92"/><rect x="204.45" y="774.22" width="6.63" height="21.78"/><rect x="211.09" y="772.04" width="6.63" height="23.96"/><rect x="217.72" y="782.93" width="6.63" height="13.07"/><rect x="224.35" y="793.82" width="6.63" height="2.18"/><rect x="230.99" y="791.64" width="6.63" height="4.36"/><rect x="237.62" y="780.75" width="6.63" height="15.25"/><rect x="244.26" y="774.22" width="6.63" height="21.78"/><rect x="250.89" y="782.93" width="6.63" height="13.07"/><rect x="257.52" y="767.69" width="6.63" height="28.31"/><rect x="264.16" y="721.95" width="6.63" height="74.05"/><rect x="270.79" y="702.35" width="6.63" height="93.65"/><rect x="277.43" y="684.92" width="6.63" height="111.08"/><rect x="284.06" y="700.17" width="6.63" height="95.83"/><rect x="290.69" y="726.3" width="6.63" height="69.7"/><rect x="297.33" y="754.62" width="6.63" height="41.38"/><rect x="303.96" y="772.04" width="6.63" height="23.96"/><rect x="310.6" y="763.33" width="6.63" height="32.67"/><rect x="317.23" y="778.58" width="6.63" height="17.42"/><rect x="323.86" y="778.58" width="6.63" height="17.42"/><rect x="330.5" y="776.4" width="6.63" height="19.6"/><rect x="337.13" y="791.64" width="6.63" height="4.36"/><rect x="343.77" y="789.47" width="6.63" height="6.53"/><rect x="350.4" y="785.11" width="6.63" height="10.89"/><rect x="357.03" y="793.82" width="6.63" height="2.18"/><rect x="363.67" y="791.64" width="6.63" height="4.36"/><rect x="370.3" y="789.47" width="6.63" height="6.53"/><rect x="376.94" y="796" width="6.63" height="0"/><rect x="383.57" y="793.82" width="6.63" height="2.18"/><rect x="390.2" y="796" width="6.63" height="0"/><rect x="396.84" y="796" width="6.63" height="0"/><rect x="403.47" y="796" width="6.63" height="0"/><rect x="410.11" y="791.64" width="6.63" height="4.36"/><rect x="416.74" y="793.82" width="6.63" height="2.18"/><rect x="423.37" y="796" width="6.63" height="0"/><rect x="430.01" y="796" width="6.63" height="0"/><rect x="436.64" y="796" width="6.63" height="0"/><rect x="443.28" y="796" width="6.63" height="0"/><rect x="449.91" y="796" width="6.63" height="0"/><rect x="456.54" y="796" width="6.63" height="0"/><rect x="463.18" y="793.82" width="6.63" height="2.18"/><rect x="469.81" y="791.64" width="6.63" height="4.36"/><rect x="476.45" y="791.64" width="6.63" height="4.36"/><rect x="483.08" y="789.47" width="6.63" height="6.53"/><rect x="489.71" y="793.82" width="6.63" height="2.18"/><rect x="496.35" y="796" width="6.63" height="0"/><rect x="502.98" y="791.64" width="6.63" height="4.36"/><rect x="509.62" y="789.47" width="6.63" height="6.53"/><rect x="516.25" y="787.29" width="6.63" height="8.71"/><rect x="522.88" y="787.29" width="6.63" height="8.71"/><rect x="529.52" y="796" width="6.63" height="0"/><rect x="536.15" y="785.11" width="6.63" height="10.89"/><rect x="542.79" y="782.93" width="6.63" height="13.07"/><rect x="549.42" y="789.47" width="6.63" height="6.53"/><rect x="556.05" y="787.29" width="6.63" height="8.71"/><rect x="562.69" y="789.47" width="6.63" height="6.53"/><rect x="569.32" y="785.11" width="6.63" height="10.89"/><rect x="575.96" y="789.47" width="6.63" height="6.53"/><rect x="582.59" y="787.29" width="6.63" height="8.71"/><rect x="589.22" y="780.75" width="6.63" height="15.25"/><rect x="595.86" y="776.4" width="6.63" height="19.6"/><rect x="602.49" y="789.47" width="6.63" height="6.53"/><rect x="609.13" y="789.47" width="6.63" height="6.53"/><rect x="615.76" y="780.75" width="6.63" height="15.25"/><rect x="622.39" y="782.93" width="6.63" height="13.07"/><rect x="629.03" y="793.82" width="6.63" height="2.18"/><rect x="635.66" y="791.64" width="6.63" height="4.36"/><rect x="642.3" y="782.93" width="6.63" height="13.07"/><rect x="648.93" y="774.22" width="6.63" height="21.78"/><rect x="655.56" y="782.93" width="6.63" height="13.07"/><rect x="662.2" y="774.22" width="6.63" height="21.78"/><rect x="668.83" y="787.29" width="6.63" height="8.71"/><rect x="675.47" y="776.4" width="6.63" height="19.6"/><rect x="682.1" y="789.47" width="6.63" height="6.53"/><rect x="688.73" y="791.64" width="6.63" height="4.36"/><rect x="695.37" y="780.75" width="6.63" height="15.25"/><rect x="702" y="791.64" width="6.63" height="4.36"/><rect x="708.64" y="785.11" width="6.63" height="10.89"/><rect x="715.27" y="785.11" width="6.63" height="10.89"/><rect x="721.9" y="787.29" width="6.63" height="8.71"/><rect x="728.54" y="791.64" width="6.63" height="4.36"/><rect x="735.17" y="785.11" width="6.63" height="10.89"/><rect x="741.81" y="791.64" width="6.63" height="4.36"/></g>
<path d="M85.04 803.3V601.3H230.99V803.3" fill="none" stroke="#000" stroke-width="1.4" stroke-dasharray="6.2 5.2"/>
<path d="M217.72 803.3V679.1H423.37V803.3" fill="none" stroke="#000" stroke-width="1.4" stroke-dasharray="6.2 5.2"/>
<path d="M463.18 596.2V796" fill="none" stroke="#000" stroke-width="1.4" stroke-dasharray="6.2 5.2"/>
<text x="89.9" y="617.5" font-size="17" fill="#111">FC8-9</text>
<text x="206.4" y="617.5" font-size="16.8" fill="#111">22</text>
<text x="194.5" y="692.5" font-size="16.5" fill="#111">20</text>
<text x="307.7" y="674.7" font-size="16.5" fill="#111">FC6</text>
<text x="399" y="693.4" font-size="16.5" fill="#111">51</text>
<text x="466.5" y="648" font-size="16.5" fill="#111">57</text>
</svg></body></html>
